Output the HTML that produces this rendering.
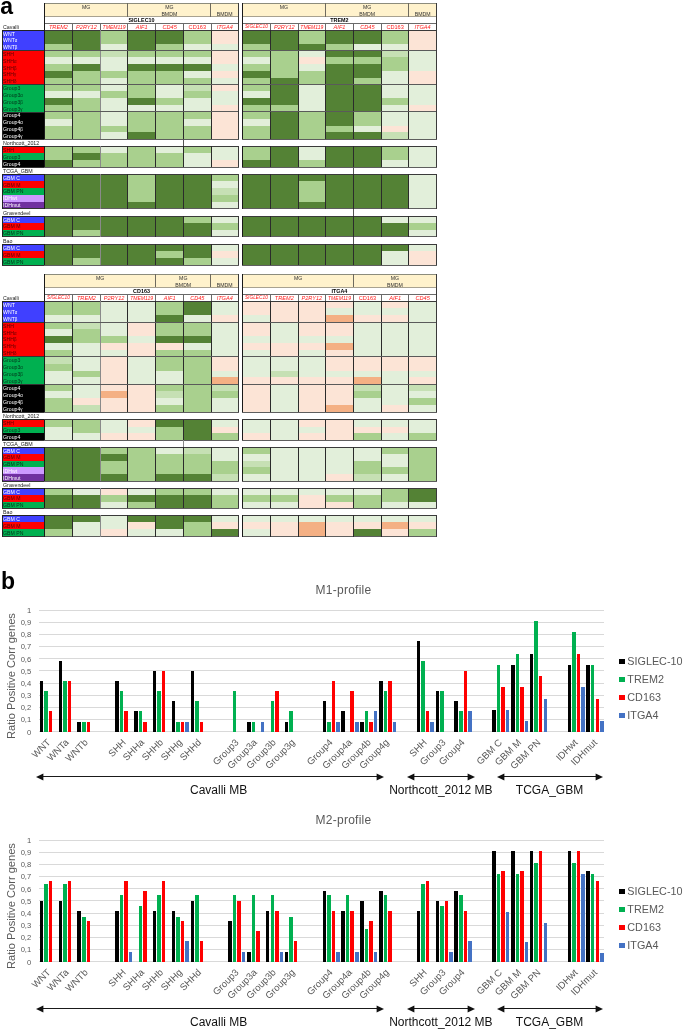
<!DOCTYPE html>
<html><head><meta charset="utf-8"><title>Figure</title>
<style>
html,body{margin:0;padding:0;background:#fff;}
body{width:685px;height:1030px;position:relative;overflow:hidden;font-family:"Liberation Sans", sans-serif;}
.a{position:absolute;}
.t{position:absolute;white-space:nowrap;}
body{will-change:transform;}
</style></head><body>
<div class="t" style="left:0.2px;top:-5.3px;font-size:23px;line-height:23px;font-weight:bold;color:#000;">a</div>
<div class="t" style="top:24.6px;font-size:5.3px;line-height:5.3px;color:#222;font-weight:normal;font-style:normal;left:3px;">Cavalli</div>
<div class="a" style="left:2px;top:30px;width:42px;height:20.49px;background:#4040ff;"></div>
<div class="t" style="top:31.5px;font-size:5.15px;line-height:5.15px;color:#fff;font-weight:normal;font-style:normal;left:3.1px;">WNT</div>
<div class="t" style="top:38.33px;font-size:5.15px;line-height:5.15px;color:#fff;font-weight:normal;font-style:normal;left:3.1px;">WNT<span style="font-size:86%">&alpha;</span></div>
<div class="t" style="top:45.16px;font-size:5.15px;line-height:5.15px;color:#fff;font-weight:normal;font-style:normal;left:3.1px;">WNT<span style="font-size:86%">&beta;</span></div>
<div class="a" style="left:2px;top:50.49px;width:42px;height:34.16px;background:#ff0000;"></div>
<div class="t" style="top:51.99px;font-size:5.15px;line-height:5.15px;color:#5a0000;font-weight:normal;font-style:normal;left:3.1px;">SHH</div>
<div class="t" style="top:58.83px;font-size:5.15px;line-height:5.15px;color:#5a0000;font-weight:normal;font-style:normal;left:3.1px;">SHH<span style="font-size:86%">&alpha;</span></div>
<div class="t" style="top:65.66px;font-size:5.15px;line-height:5.15px;color:#5a0000;font-weight:normal;font-style:normal;left:3.1px;">SHH<span style="font-size:86%">&beta;</span></div>
<div class="t" style="top:72.49px;font-size:5.15px;line-height:5.15px;color:#5a0000;font-weight:normal;font-style:normal;left:3.1px;">SHH<span style="font-size:86%">&gamma;</span></div>
<div class="t" style="top:79.32px;font-size:5.15px;line-height:5.15px;color:#5a0000;font-weight:normal;font-style:normal;left:3.1px;">SHH<span style="font-size:86%">&delta;</span></div>
<div class="a" style="left:2px;top:84.65px;width:42px;height:27.33px;background:#00b050;"></div>
<div class="t" style="top:86.15px;font-size:5.15px;line-height:5.15px;color:#00331a;font-weight:normal;font-style:normal;left:3.1px;">Group3</div>
<div class="t" style="top:92.98px;font-size:5.15px;line-height:5.15px;color:#00331a;font-weight:normal;font-style:normal;left:3.1px;">Group3<span style="font-size:86%">&alpha;</span></div>
<div class="t" style="top:99.81px;font-size:5.15px;line-height:5.15px;color:#00331a;font-weight:normal;font-style:normal;left:3.1px;">Group3<span style="font-size:86%">&beta;</span></div>
<div class="t" style="top:106.64px;font-size:5.15px;line-height:5.15px;color:#00331a;font-weight:normal;font-style:normal;left:3.1px;">Group3<span style="font-size:86%">&gamma;</span></div>
<div class="a" style="left:2px;top:111.98px;width:42px;height:27.33px;background:#000000;"></div>
<div class="t" style="top:113.48px;font-size:5.15px;line-height:5.15px;color:#fff;font-weight:normal;font-style:normal;left:3.1px;">Group4</div>
<div class="t" style="top:120.31px;font-size:5.15px;line-height:5.15px;color:#fff;font-weight:normal;font-style:normal;left:3.1px;">Group4<span style="font-size:86%">&alpha;</span></div>
<div class="t" style="top:127.14px;font-size:5.15px;line-height:5.15px;color:#fff;font-weight:normal;font-style:normal;left:3.1px;">Group4<span style="font-size:86%">&beta;</span></div>
<div class="t" style="top:133.97px;font-size:5.15px;line-height:5.15px;color:#fff;font-weight:normal;font-style:normal;left:3.1px;">Group4<span style="font-size:86%">&gamma;</span></div>
<div class="a" style="left:2px;top:29.5px;width:42px;height:1px;background:#222;"></div>
<div class="a" style="left:2px;top:138.8px;width:42px;height:1px;background:#333;"></div>
<div class="a" style="left:1.95px;top:30px;width:0.9px;height:109.3px;background:#222;"></div>
<div class="a" style="left:2px;top:50.09px;width:42px;height:0.8px;background:#333;"></div>
<div class="a" style="left:2px;top:84.25px;width:42px;height:0.8px;background:#333;"></div>
<div class="a" style="left:2px;top:111.58px;width:42px;height:0.8px;background:#333;"></div>
<div class="t" style="top:140.9px;font-size:5.3px;line-height:5.3px;color:#222;font-weight:normal;font-style:normal;left:3px;">Northcott_2012</div>
<div class="a" style="left:2px;top:146.3px;width:42px;height:7px;background:#ff0000;"></div>
<div class="t" style="top:147.8px;font-size:5.15px;line-height:5.15px;color:#5a0000;font-weight:normal;font-style:normal;left:3.1px;">SHH</div>
<div class="a" style="left:2px;top:153.3px;width:42px;height:7px;background:#00b050;"></div>
<div class="t" style="top:154.8px;font-size:5.15px;line-height:5.15px;color:#00331a;font-weight:normal;font-style:normal;left:3.1px;">Group3</div>
<div class="a" style="left:2px;top:160.3px;width:42px;height:7px;background:#000000;"></div>
<div class="t" style="top:161.8px;font-size:5.15px;line-height:5.15px;color:#fff;font-weight:normal;font-style:normal;left:3.1px;">Group4</div>
<div class="a" style="left:2px;top:145.8px;width:42px;height:1px;background:#222;"></div>
<div class="a" style="left:2px;top:166.8px;width:42px;height:1px;background:#333;"></div>
<div class="a" style="left:1.95px;top:146.3px;width:0.9px;height:21px;background:#222;"></div>
<div class="t" style="top:168.7px;font-size:5.3px;line-height:5.3px;color:#222;font-weight:normal;font-style:normal;left:3px;">TCGA_GBM</div>
<div class="a" style="left:2px;top:174.1px;width:42px;height:6.9px;background:#4040ff;"></div>
<div class="t" style="top:175.6px;font-size:5.15px;line-height:5.15px;color:#fff;font-weight:normal;font-style:normal;left:3.1px;">GBM C</div>
<div class="a" style="left:2px;top:181px;width:42px;height:6.9px;background:#ff0000;"></div>
<div class="t" style="top:182.5px;font-size:5.15px;line-height:5.15px;color:#5a0000;font-weight:normal;font-style:normal;left:3.1px;">GBM M</div>
<div class="a" style="left:2px;top:187.9px;width:42px;height:6.9px;background:#00b050;"></div>
<div class="t" style="top:189.4px;font-size:5.15px;line-height:5.15px;color:#00331a;font-weight:normal;font-style:normal;left:3.1px;">GBM PN</div>
<div class="a" style="left:2px;top:194.8px;width:42px;height:6.9px;background:#cc99ff;"></div>
<div class="t" style="top:196.3px;font-size:5.15px;line-height:5.15px;color:#fff;font-weight:normal;font-style:normal;left:3.1px;">IDHwt</div>
<div class="a" style="left:2px;top:201.7px;width:42px;height:6.9px;background:#7030a0;"></div>
<div class="t" style="top:203.2px;font-size:5.15px;line-height:5.15px;color:#fff;font-weight:normal;font-style:normal;left:3.1px;">IDHmut</div>
<div class="a" style="left:2px;top:173.6px;width:42px;height:1px;background:#222;"></div>
<div class="a" style="left:2px;top:208.1px;width:42px;height:1px;background:#333;"></div>
<div class="a" style="left:1.95px;top:174.1px;width:0.9px;height:34.5px;background:#222;"></div>
<div class="t" style="top:210.6px;font-size:5.3px;line-height:5.3px;color:#222;font-weight:normal;font-style:normal;left:3px;">Gravendeel</div>
<div class="a" style="left:2px;top:216px;width:42px;height:6.87px;background:#4040ff;"></div>
<div class="t" style="top:217.5px;font-size:5.15px;line-height:5.15px;color:#fff;font-weight:normal;font-style:normal;left:3.1px;">GBM C</div>
<div class="a" style="left:2px;top:222.87px;width:42px;height:6.87px;background:#ff0000;"></div>
<div class="t" style="top:224.37px;font-size:5.15px;line-height:5.15px;color:#5a0000;font-weight:normal;font-style:normal;left:3.1px;">GBM M</div>
<div class="a" style="left:2px;top:229.73px;width:42px;height:6.87px;background:#00b050;"></div>
<div class="t" style="top:231.23px;font-size:5.15px;line-height:5.15px;color:#00331a;font-weight:normal;font-style:normal;left:3.1px;">GBM PN</div>
<div class="a" style="left:2px;top:215.5px;width:42px;height:1px;background:#222;"></div>
<div class="a" style="left:2px;top:236.1px;width:42px;height:1px;background:#333;"></div>
<div class="a" style="left:1.95px;top:216px;width:0.9px;height:20.6px;background:#222;"></div>
<div class="t" style="top:238.8px;font-size:5.3px;line-height:5.3px;color:#222;font-weight:normal;font-style:normal;left:3px;">Bao</div>
<div class="a" style="left:2px;top:244.2px;width:42px;height:6.93px;background:#4040ff;"></div>
<div class="t" style="top:245.7px;font-size:5.15px;line-height:5.15px;color:#fff;font-weight:normal;font-style:normal;left:3.1px;">GBM C</div>
<div class="a" style="left:2px;top:251.13px;width:42px;height:6.93px;background:#ff0000;"></div>
<div class="t" style="top:252.63px;font-size:5.15px;line-height:5.15px;color:#5a0000;font-weight:normal;font-style:normal;left:3.1px;">GBM M</div>
<div class="a" style="left:2px;top:258.07px;width:42px;height:6.93px;background:#00b050;"></div>
<div class="t" style="top:259.57px;font-size:5.15px;line-height:5.15px;color:#00331a;font-weight:normal;font-style:normal;left:3.1px;">GBM PN</div>
<div class="a" style="left:2px;top:243.7px;width:42px;height:1px;background:#222;"></div>
<div class="a" style="left:2px;top:264.5px;width:42px;height:1px;background:#333;"></div>
<div class="a" style="left:1.95px;top:244.2px;width:0.9px;height:20.8px;background:#222;"></div>
<div class="t" style="top:296px;font-size:5.3px;line-height:5.3px;color:#222;font-weight:normal;font-style:normal;left:3px;">Cavalli</div>
<div class="a" style="left:2px;top:301.4px;width:42px;height:20.74px;background:#4040ff;"></div>
<div class="t" style="top:302.9px;font-size:5.15px;line-height:5.15px;color:#fff;font-weight:normal;font-style:normal;left:3.1px;">WNT</div>
<div class="t" style="top:309.81px;font-size:5.15px;line-height:5.15px;color:#fff;font-weight:normal;font-style:normal;left:3.1px;">WNT<span style="font-size:86%">&alpha;</span></div>
<div class="t" style="top:316.72px;font-size:5.15px;line-height:5.15px;color:#fff;font-weight:normal;font-style:normal;left:3.1px;">WNT<span style="font-size:86%">&beta;</span></div>
<div class="a" style="left:2px;top:322.14px;width:42px;height:34.56px;background:#ff0000;"></div>
<div class="t" style="top:323.64px;font-size:5.15px;line-height:5.15px;color:#5a0000;font-weight:normal;font-style:normal;left:3.1px;">SHH</div>
<div class="t" style="top:330.55px;font-size:5.15px;line-height:5.15px;color:#5a0000;font-weight:normal;font-style:normal;left:3.1px;">SHH<span style="font-size:86%">&alpha;</span></div>
<div class="t" style="top:337.46px;font-size:5.15px;line-height:5.15px;color:#5a0000;font-weight:normal;font-style:normal;left:3.1px;">SHH<span style="font-size:86%">&beta;</span></div>
<div class="t" style="top:344.38px;font-size:5.15px;line-height:5.15px;color:#5a0000;font-weight:normal;font-style:normal;left:3.1px;">SHH<span style="font-size:86%">&gamma;</span></div>
<div class="t" style="top:351.29px;font-size:5.15px;line-height:5.15px;color:#5a0000;font-weight:normal;font-style:normal;left:3.1px;">SHH<span style="font-size:86%">&delta;</span></div>
<div class="a" style="left:2px;top:356.7px;width:42px;height:27.65px;background:#00b050;"></div>
<div class="t" style="top:358.2px;font-size:5.15px;line-height:5.15px;color:#00331a;font-weight:normal;font-style:normal;left:3.1px;">Group3</div>
<div class="t" style="top:365.11px;font-size:5.15px;line-height:5.15px;color:#00331a;font-weight:normal;font-style:normal;left:3.1px;">Group3<span style="font-size:86%">&alpha;</span></div>
<div class="t" style="top:372.02px;font-size:5.15px;line-height:5.15px;color:#00331a;font-weight:normal;font-style:normal;left:3.1px;">Group3<span style="font-size:86%">&beta;</span></div>
<div class="t" style="top:378.94px;font-size:5.15px;line-height:5.15px;color:#00331a;font-weight:normal;font-style:normal;left:3.1px;">Group3<span style="font-size:86%">&gamma;</span></div>
<div class="a" style="left:2px;top:384.35px;width:42px;height:27.65px;background:#000000;"></div>
<div class="t" style="top:385.85px;font-size:5.15px;line-height:5.15px;color:#fff;font-weight:normal;font-style:normal;left:3.1px;">Group4</div>
<div class="t" style="top:392.76px;font-size:5.15px;line-height:5.15px;color:#fff;font-weight:normal;font-style:normal;left:3.1px;">Group4<span style="font-size:86%">&alpha;</span></div>
<div class="t" style="top:399.68px;font-size:5.15px;line-height:5.15px;color:#fff;font-weight:normal;font-style:normal;left:3.1px;">Group4<span style="font-size:86%">&beta;</span></div>
<div class="t" style="top:406.59px;font-size:5.15px;line-height:5.15px;color:#fff;font-weight:normal;font-style:normal;left:3.1px;">Group4<span style="font-size:86%">&gamma;</span></div>
<div class="a" style="left:2px;top:300.9px;width:42px;height:1px;background:#222;"></div>
<div class="a" style="left:2px;top:411.5px;width:42px;height:1px;background:#333;"></div>
<div class="a" style="left:1.95px;top:301.4px;width:0.9px;height:110.6px;background:#222;"></div>
<div class="a" style="left:2px;top:321.74px;width:42px;height:0.8px;background:#333;"></div>
<div class="a" style="left:2px;top:356.3px;width:42px;height:0.8px;background:#333;"></div>
<div class="a" style="left:2px;top:383.95px;width:42px;height:0.8px;background:#333;"></div>
<div class="t" style="top:414.4px;font-size:5.3px;line-height:5.3px;color:#222;font-weight:normal;font-style:normal;left:3px;">Northcott_2012</div>
<div class="a" style="left:2px;top:419.8px;width:42px;height:6.83px;background:#ff0000;"></div>
<div class="t" style="top:421.3px;font-size:5.15px;line-height:5.15px;color:#5a0000;font-weight:normal;font-style:normal;left:3.1px;">SHH</div>
<div class="a" style="left:2px;top:426.63px;width:42px;height:6.83px;background:#00b050;"></div>
<div class="t" style="top:428.13px;font-size:5.15px;line-height:5.15px;color:#00331a;font-weight:normal;font-style:normal;left:3.1px;">Group3</div>
<div class="a" style="left:2px;top:433.47px;width:42px;height:6.83px;background:#000000;"></div>
<div class="t" style="top:434.97px;font-size:5.15px;line-height:5.15px;color:#fff;font-weight:normal;font-style:normal;left:3.1px;">Group4</div>
<div class="a" style="left:2px;top:419.3px;width:42px;height:1px;background:#222;"></div>
<div class="a" style="left:2px;top:439.8px;width:42px;height:1px;background:#333;"></div>
<div class="a" style="left:1.95px;top:419.8px;width:0.9px;height:20.5px;background:#222;"></div>
<div class="t" style="top:441.8px;font-size:5.3px;line-height:5.3px;color:#222;font-weight:normal;font-style:normal;left:3px;">TCGA_GBM</div>
<div class="a" style="left:2px;top:447.2px;width:42px;height:6.76px;background:#4040ff;"></div>
<div class="t" style="top:448.7px;font-size:5.15px;line-height:5.15px;color:#fff;font-weight:normal;font-style:normal;left:3.1px;">GBM C</div>
<div class="a" style="left:2px;top:453.96px;width:42px;height:6.76px;background:#ff0000;"></div>
<div class="t" style="top:455.46px;font-size:5.15px;line-height:5.15px;color:#5a0000;font-weight:normal;font-style:normal;left:3.1px;">GBM M</div>
<div class="a" style="left:2px;top:460.72px;width:42px;height:6.76px;background:#00b050;"></div>
<div class="t" style="top:462.22px;font-size:5.15px;line-height:5.15px;color:#00331a;font-weight:normal;font-style:normal;left:3.1px;">GBM PN</div>
<div class="a" style="left:2px;top:467.48px;width:42px;height:6.76px;background:#cc99ff;"></div>
<div class="t" style="top:468.98px;font-size:5.15px;line-height:5.15px;color:#fff;font-weight:normal;font-style:normal;left:3.1px;">IDHwt</div>
<div class="a" style="left:2px;top:474.24px;width:42px;height:6.76px;background:#7030a0;"></div>
<div class="t" style="top:475.74px;font-size:5.15px;line-height:5.15px;color:#fff;font-weight:normal;font-style:normal;left:3.1px;">IDHmut</div>
<div class="a" style="left:2px;top:446.7px;width:42px;height:1px;background:#222;"></div>
<div class="a" style="left:2px;top:480.5px;width:42px;height:1px;background:#333;"></div>
<div class="a" style="left:1.95px;top:447.2px;width:0.9px;height:33.8px;background:#222;"></div>
<div class="t" style="top:482.6px;font-size:5.3px;line-height:5.3px;color:#222;font-weight:normal;font-style:normal;left:3px;">Gravendeel</div>
<div class="a" style="left:2px;top:488px;width:42px;height:6.8px;background:#4040ff;"></div>
<div class="t" style="top:489.5px;font-size:5.15px;line-height:5.15px;color:#fff;font-weight:normal;font-style:normal;left:3.1px;">GBM C</div>
<div class="a" style="left:2px;top:494.8px;width:42px;height:6.8px;background:#ff0000;"></div>
<div class="t" style="top:496.3px;font-size:5.15px;line-height:5.15px;color:#5a0000;font-weight:normal;font-style:normal;left:3.1px;">GBM M</div>
<div class="a" style="left:2px;top:501.6px;width:42px;height:6.8px;background:#00b050;"></div>
<div class="t" style="top:503.1px;font-size:5.15px;line-height:5.15px;color:#00331a;font-weight:normal;font-style:normal;left:3.1px;">GBM PN</div>
<div class="a" style="left:2px;top:487.5px;width:42px;height:1px;background:#222;"></div>
<div class="a" style="left:2px;top:507.9px;width:42px;height:1px;background:#333;"></div>
<div class="a" style="left:1.95px;top:488px;width:0.9px;height:20.4px;background:#222;"></div>
<div class="t" style="top:509.6px;font-size:5.3px;line-height:5.3px;color:#222;font-weight:normal;font-style:normal;left:3px;">Bao</div>
<div class="a" style="left:2px;top:515px;width:42px;height:7.2px;background:#4040ff;"></div>
<div class="t" style="top:516.5px;font-size:5.15px;line-height:5.15px;color:#fff;font-weight:normal;font-style:normal;left:3.1px;">GBM C</div>
<div class="a" style="left:2px;top:522.2px;width:42px;height:7.2px;background:#ff0000;"></div>
<div class="t" style="top:523.7px;font-size:5.15px;line-height:5.15px;color:#5a0000;font-weight:normal;font-style:normal;left:3.1px;">GBM M</div>
<div class="a" style="left:2px;top:529.4px;width:42px;height:7.2px;background:#00b050;"></div>
<div class="t" style="top:530.9px;font-size:5.15px;line-height:5.15px;color:#00331a;font-weight:normal;font-style:normal;left:3.1px;">GBM PN</div>
<div class="a" style="left:2px;top:514.5px;width:42px;height:1px;background:#222;"></div>
<div class="a" style="left:2px;top:536.1px;width:42px;height:1px;background:#333;"></div>
<div class="a" style="left:1.95px;top:515px;width:0.9px;height:21.6px;background:#222;"></div>
<div class="a" style="left:44px;top:3px;width:195px;height:13.6px;background:#fff2cc;"></div>
<div class="t" style="top:4.5px;font-size:5.2px;line-height:5.2px;color:#333;font-weight:normal;font-style:normal;left:86.1px;width:0;display:flex;justify-content:center;">MG</div>
<div class="t" style="top:4.5px;font-size:5.2px;line-height:5.2px;color:#333;font-weight:normal;font-style:normal;left:169.32px;width:0;display:flex;justify-content:center;">MG</div>
<div class="t" style="top:11.6px;font-size:5.2px;line-height:5.2px;color:#333;font-weight:normal;font-style:normal;left:169.32px;width:0;display:flex;justify-content:center;">BMDM</div>
<div class="t" style="top:11.6px;font-size:5.2px;line-height:5.2px;color:#333;font-weight:normal;font-style:normal;left:224.72px;width:0;display:flex;justify-content:center;">BMDM</div>
<div class="a" style="left:44px;top:16.6px;width:195px;height:6.9px;background:#ffffff;"></div>
<div class="t" style="top:18.2px;font-size:5.4px;line-height:5.4px;color:#000;font-weight:bold;font-style:normal;left:141.5px;width:0;display:flex;justify-content:center;">SIGLEC10</div>
<div class="a" style="left:44px;top:23.5px;width:195px;height:6.5px;background:#ffffff;"></div>
<div class="t" style="top:25px;font-size:5.6px;line-height:5.6px;color:#ff1a1a;font-weight:normal;font-style:italic;left:58.45px;width:0;display:flex;justify-content:center;">TREM2</div>
<div class="t" style="top:25px;font-size:5.6px;line-height:5.6px;color:#ff1a1a;font-weight:normal;font-style:italic;left:86.43px;width:0;display:flex;justify-content:center;">P2RY12</div>
<div class="t" style="top:25.27px;font-size:5.07px;line-height:5.07px;color:#ff1a1a;font-weight:normal;font-style:italic;left:114.08px;width:0;display:flex;justify-content:center;">TMEM119</div>
<div class="t" style="top:25px;font-size:5.6px;line-height:5.6px;color:#ff1a1a;font-weight:normal;font-style:italic;left:141.65px;width:0;display:flex;justify-content:center;">AIF1</div>
<div class="t" style="top:25px;font-size:5.6px;line-height:5.6px;color:#ff1a1a;font-weight:normal;font-style:italic;left:169.62px;width:0;display:flex;justify-content:center;">CD45</div>
<div class="t" style="top:25px;font-size:5.6px;line-height:5.6px;color:#ff1a1a;font-weight:normal;font-style:normal;left:197.3px;width:0;display:flex;justify-content:center;">CD163</div>
<div class="t" style="top:25px;font-size:5.6px;line-height:5.6px;color:#ff1a1a;font-weight:normal;font-style:italic;left:224.72px;width:0;display:flex;justify-content:center;">ITGA4</div>
<div class="a" style="left:44.5px;top:30px;width:27.9px;height:13.66px;background:#548235;"></div>
<div class="a" style="left:44.5px;top:43.66px;width:27.9px;height:13.66px;background:#a9d08e;"></div>
<div class="a" style="left:44.5px;top:57.33px;width:27.9px;height:6.83px;background:#e2efda;"></div>
<div class="a" style="left:44.5px;top:64.16px;width:27.9px;height:6.83px;background:#a9d08e;"></div>
<div class="a" style="left:44.5px;top:70.99px;width:27.9px;height:6.83px;background:#548235;"></div>
<div class="a" style="left:44.5px;top:77.82px;width:27.9px;height:13.66px;background:#a9d08e;"></div>
<div class="a" style="left:44.5px;top:91.48px;width:27.9px;height:6.83px;background:#e2efda;"></div>
<div class="a" style="left:44.5px;top:98.31px;width:27.9px;height:6.83px;background:#548235;"></div>
<div class="a" style="left:44.5px;top:105.14px;width:27.9px;height:13.66px;background:#a9d08e;"></div>
<div class="a" style="left:44.5px;top:118.81px;width:27.9px;height:6.83px;background:#e2efda;"></div>
<div class="a" style="left:44.5px;top:125.64px;width:27.9px;height:13.66px;background:#a9d08e;"></div>
<div class="a" style="left:44.5px;top:146.3px;width:27.9px;height:14px;background:#a9d08e;"></div>
<div class="a" style="left:44.5px;top:160.3px;width:27.9px;height:7px;background:#548235;"></div>
<div class="a" style="left:44.5px;top:174.1px;width:27.9px;height:34.5px;background:#548235;"></div>
<div class="a" style="left:44.5px;top:216px;width:27.9px;height:20.6px;background:#548235;"></div>
<div class="a" style="left:44.5px;top:244.2px;width:27.9px;height:20.8px;background:#548235;"></div>
<div class="a" style="left:72.4px;top:30px;width:28.05px;height:20.49px;background:#548235;"></div>
<div class="a" style="left:72.4px;top:50.49px;width:28.05px;height:6.83px;background:#a9d08e;"></div>
<div class="a" style="left:72.4px;top:57.33px;width:28.05px;height:6.83px;background:#e2efda;"></div>
<div class="a" style="left:72.4px;top:64.16px;width:28.05px;height:6.83px;background:#548235;"></div>
<div class="a" style="left:72.4px;top:70.99px;width:28.05px;height:20.49px;background:#a9d08e;"></div>
<div class="a" style="left:72.4px;top:91.48px;width:28.05px;height:6.83px;background:#e2efda;"></div>
<div class="a" style="left:72.4px;top:98.31px;width:28.05px;height:40.99px;background:#a9d08e;"></div>
<div class="a" style="left:72.4px;top:146.3px;width:28.05px;height:7px;background:#a9d08e;"></div>
<div class="a" style="left:72.4px;top:153.3px;width:28.05px;height:7px;background:#548235;"></div>
<div class="a" style="left:72.4px;top:160.3px;width:28.05px;height:7px;background:#a9d08e;"></div>
<div class="a" style="left:72.4px;top:174.1px;width:28.05px;height:34.5px;background:#548235;"></div>
<div class="a" style="left:72.4px;top:216px;width:28.05px;height:13.73px;background:#548235;"></div>
<div class="a" style="left:72.4px;top:229.73px;width:28.05px;height:6.87px;background:#a9d08e;"></div>
<div class="a" style="left:72.4px;top:244.2px;width:28.05px;height:13.87px;background:#548235;"></div>
<div class="a" style="left:72.4px;top:258.07px;width:28.05px;height:6.93px;background:#a9d08e;"></div>
<div class="a" style="left:100.45px;top:30px;width:27.25px;height:13.66px;background:#a9d08e;"></div>
<div class="a" style="left:100.45px;top:43.66px;width:27.25px;height:6.83px;background:#e2efda;"></div>
<div class="a" style="left:100.45px;top:50.49px;width:27.25px;height:6.83px;background:#c6e0b4;"></div>
<div class="a" style="left:100.45px;top:57.33px;width:27.25px;height:13.66px;background:#e2efda;"></div>
<div class="a" style="left:100.45px;top:70.99px;width:27.25px;height:6.83px;background:#a9d08e;"></div>
<div class="a" style="left:100.45px;top:77.82px;width:27.25px;height:13.66px;background:#e2efda;"></div>
<div class="a" style="left:100.45px;top:91.48px;width:27.25px;height:6.83px;background:#a9d08e;"></div>
<div class="a" style="left:100.45px;top:98.31px;width:27.25px;height:27.33px;background:#e2efda;"></div>
<div class="a" style="left:100.45px;top:125.64px;width:27.25px;height:6.83px;background:#a9d08e;"></div>
<div class="a" style="left:100.45px;top:132.47px;width:27.25px;height:6.83px;background:#e2efda;"></div>
<div class="a" style="left:100.45px;top:146.3px;width:27.25px;height:7px;background:#e2efda;"></div>
<div class="a" style="left:100.45px;top:153.3px;width:27.25px;height:14px;background:#a9d08e;"></div>
<div class="a" style="left:100.45px;top:174.1px;width:27.25px;height:34.5px;background:#548235;"></div>
<div class="a" style="left:100.45px;top:216px;width:27.25px;height:20.6px;background:#548235;"></div>
<div class="a" style="left:100.45px;top:244.2px;width:27.25px;height:20.8px;background:#548235;"></div>
<div class="a" style="left:127.7px;top:30px;width:27.9px;height:20.49px;background:#548235;"></div>
<div class="a" style="left:127.7px;top:50.49px;width:27.9px;height:6.83px;background:#a9d08e;"></div>
<div class="a" style="left:127.7px;top:57.33px;width:27.9px;height:6.83px;background:#e2efda;"></div>
<div class="a" style="left:127.7px;top:64.16px;width:27.9px;height:6.83px;background:#548235;"></div>
<div class="a" style="left:127.7px;top:70.99px;width:27.9px;height:27.32px;background:#a9d08e;"></div>
<div class="a" style="left:127.7px;top:98.31px;width:27.9px;height:6.83px;background:#548235;"></div>
<div class="a" style="left:127.7px;top:105.14px;width:27.9px;height:6.83px;background:#e2efda;"></div>
<div class="a" style="left:127.7px;top:111.98px;width:27.9px;height:20.49px;background:#a9d08e;"></div>
<div class="a" style="left:127.7px;top:132.47px;width:27.9px;height:6.83px;background:#548235;"></div>
<div class="a" style="left:127.7px;top:146.3px;width:27.9px;height:21px;background:#a9d08e;"></div>
<div class="a" style="left:127.7px;top:174.1px;width:27.9px;height:27.6px;background:#a9d08e;"></div>
<div class="a" style="left:127.7px;top:201.7px;width:27.9px;height:6.9px;background:#548235;"></div>
<div class="a" style="left:127.7px;top:216px;width:27.9px;height:20.6px;background:#548235;"></div>
<div class="a" style="left:127.7px;top:244.2px;width:27.9px;height:20.8px;background:#548235;"></div>
<div class="a" style="left:155.6px;top:30px;width:28.05px;height:13.66px;background:#548235;"></div>
<div class="a" style="left:155.6px;top:43.66px;width:28.05px;height:13.66px;background:#a9d08e;"></div>
<div class="a" style="left:155.6px;top:57.33px;width:28.05px;height:6.83px;background:#e2efda;"></div>
<div class="a" style="left:155.6px;top:64.16px;width:28.05px;height:6.83px;background:#548235;"></div>
<div class="a" style="left:155.6px;top:70.99px;width:28.05px;height:13.66px;background:#a9d08e;"></div>
<div class="a" style="left:155.6px;top:84.65px;width:28.05px;height:13.66px;background:#e2efda;"></div>
<div class="a" style="left:155.6px;top:98.31px;width:28.05px;height:6.83px;background:#a9d08e;"></div>
<div class="a" style="left:155.6px;top:105.14px;width:28.05px;height:6.83px;background:#e2efda;"></div>
<div class="a" style="left:155.6px;top:111.98px;width:28.05px;height:27.33px;background:#a9d08e;"></div>
<div class="a" style="left:155.6px;top:146.3px;width:28.05px;height:7px;background:#e2efda;"></div>
<div class="a" style="left:155.6px;top:153.3px;width:28.05px;height:14px;background:#a9d08e;"></div>
<div class="a" style="left:155.6px;top:174.1px;width:28.05px;height:34.5px;background:#548235;"></div>
<div class="a" style="left:155.6px;top:216px;width:28.05px;height:20.6px;background:#548235;"></div>
<div class="a" style="left:155.6px;top:244.2px;width:28.05px;height:6.93px;background:#548235;"></div>
<div class="a" style="left:155.6px;top:251.13px;width:28.05px;height:6.93px;background:#a9d08e;"></div>
<div class="a" style="left:155.6px;top:258.07px;width:28.05px;height:6.93px;background:#548235;"></div>
<div class="a" style="left:183.65px;top:30px;width:27.3px;height:13.66px;background:#a9d08e;"></div>
<div class="a" style="left:183.65px;top:43.66px;width:27.3px;height:6.83px;background:#e2efda;"></div>
<div class="a" style="left:183.65px;top:50.49px;width:27.3px;height:6.83px;background:#a9d08e;"></div>
<div class="a" style="left:183.65px;top:57.33px;width:27.3px;height:6.83px;background:#e2efda;"></div>
<div class="a" style="left:183.65px;top:64.16px;width:27.3px;height:6.83px;background:#548235;"></div>
<div class="a" style="left:183.65px;top:70.99px;width:27.3px;height:6.83px;background:#e2efda;"></div>
<div class="a" style="left:183.65px;top:77.82px;width:27.3px;height:6.83px;background:#a9d08e;"></div>
<div class="a" style="left:183.65px;top:84.65px;width:27.3px;height:6.83px;background:#c6e0b4;"></div>
<div class="a" style="left:183.65px;top:91.48px;width:27.3px;height:6.83px;background:#a9d08e;"></div>
<div class="a" style="left:183.65px;top:98.31px;width:27.3px;height:13.66px;background:#e2efda;"></div>
<div class="a" style="left:183.65px;top:111.98px;width:27.3px;height:6.83px;background:#a9d08e;"></div>
<div class="a" style="left:183.65px;top:118.81px;width:27.3px;height:6.83px;background:#e2efda;"></div>
<div class="a" style="left:183.65px;top:125.64px;width:27.3px;height:13.66px;background:#a9d08e;"></div>
<div class="a" style="left:183.65px;top:146.3px;width:27.3px;height:7px;background:#a9d08e;"></div>
<div class="a" style="left:183.65px;top:153.3px;width:27.3px;height:14px;background:#e2efda;"></div>
<div class="a" style="left:183.65px;top:174.1px;width:27.3px;height:34.5px;background:#548235;"></div>
<div class="a" style="left:183.65px;top:216px;width:27.3px;height:6.87px;background:#a9d08e;"></div>
<div class="a" style="left:183.65px;top:222.87px;width:27.3px;height:13.73px;background:#548235;"></div>
<div class="a" style="left:183.65px;top:244.2px;width:27.3px;height:13.87px;background:#548235;"></div>
<div class="a" style="left:183.65px;top:258.07px;width:27.3px;height:6.93px;background:#a9d08e;"></div>
<div class="a" style="left:210.95px;top:30px;width:27.55px;height:13.66px;background:#fce4d6;"></div>
<div class="a" style="left:210.95px;top:43.66px;width:27.55px;height:6.83px;background:#e2efda;"></div>
<div class="a" style="left:210.95px;top:50.49px;width:27.55px;height:13.66px;background:#fce4d6;"></div>
<div class="a" style="left:210.95px;top:64.16px;width:27.55px;height:6.83px;background:#e2efda;"></div>
<div class="a" style="left:210.95px;top:70.99px;width:27.55px;height:6.83px;background:#fce4d6;"></div>
<div class="a" style="left:210.95px;top:77.82px;width:27.55px;height:6.83px;background:#e2efda;"></div>
<div class="a" style="left:210.95px;top:84.65px;width:27.55px;height:6.83px;background:#fce4d6;"></div>
<div class="a" style="left:210.95px;top:91.48px;width:27.55px;height:13.66px;background:#e2efda;"></div>
<div class="a" style="left:210.95px;top:105.14px;width:27.55px;height:34.16px;background:#fce4d6;"></div>
<div class="a" style="left:210.95px;top:146.3px;width:27.55px;height:14px;background:#e2efda;"></div>
<div class="a" style="left:210.95px;top:160.3px;width:27.55px;height:7px;background:#fce4d6;"></div>
<div class="a" style="left:210.95px;top:174.1px;width:27.55px;height:6.9px;background:#a9d08e;"></div>
<div class="a" style="left:210.95px;top:181px;width:27.55px;height:6.9px;background:#e2efda;"></div>
<div class="a" style="left:210.95px;top:187.9px;width:27.55px;height:6.9px;background:#c6e0b4;"></div>
<div class="a" style="left:210.95px;top:194.8px;width:27.55px;height:6.9px;background:#a9d08e;"></div>
<div class="a" style="left:210.95px;top:201.7px;width:27.55px;height:6.9px;background:#e2efda;"></div>
<div class="a" style="left:210.95px;top:216px;width:27.55px;height:6.87px;background:#e2efda;"></div>
<div class="a" style="left:210.95px;top:222.87px;width:27.55px;height:6.87px;background:#a9d08e;"></div>
<div class="a" style="left:210.95px;top:229.73px;width:27.55px;height:6.87px;background:#e2efda;"></div>
<div class="a" style="left:210.95px;top:244.2px;width:27.55px;height:6.93px;background:#e2efda;"></div>
<div class="a" style="left:210.95px;top:251.13px;width:27.55px;height:6.93px;background:#fce4d6;"></div>
<div class="a" style="left:210.95px;top:258.07px;width:27.55px;height:6.93px;background:#e2efda;"></div>
<div class="a" style="left:44px;top:2.9px;width:195px;height:1px;background:#8c8c7c;"></div>
<div class="a" style="left:44px;top:16.1px;width:195px;height:1px;background:#a8a290;"></div>
<div class="a" style="left:44px;top:23.05px;width:195px;height:0.9px;background:#6a6a6a;"></div>
<div class="a" style="left:127.2px;top:3px;width:1px;height:13.6px;background:#6e6a5e;"></div>
<div class="a" style="left:210.45px;top:3px;width:1px;height:13.6px;background:#6e6a5e;"></div>
<div class="a" style="left:71.95px;top:23.5px;width:0.9px;height:6.5px;background:#6a6a6a;"></div>
<div class="a" style="left:100px;top:23.5px;width:0.9px;height:6.5px;background:#6a6a6a;"></div>
<div class="a" style="left:127.25px;top:23.5px;width:0.9px;height:6.5px;background:#6a6a6a;"></div>
<div class="a" style="left:155.15px;top:23.5px;width:0.9px;height:6.5px;background:#6a6a6a;"></div>
<div class="a" style="left:183.2px;top:23.5px;width:0.9px;height:6.5px;background:#6a6a6a;"></div>
<div class="a" style="left:210.5px;top:23.5px;width:0.9px;height:6.5px;background:#6a6a6a;"></div>
<div class="a" style="left:44px;top:29.5px;width:195px;height:1px;background:#3a3a3a;"></div>
<div class="a" style="left:44px;top:138.8px;width:195px;height:1px;background:#5e5e5e;"></div>
<div class="a" style="left:71.95px;top:30px;width:0.9px;height:109.3px;background:#2b2b2b;"></div>
<div class="a" style="left:100px;top:30px;width:0.9px;height:109.3px;background:#8a8a8a;"></div>
<div class="a" style="left:127.25px;top:30px;width:0.9px;height:109.3px;background:#2b2b2b;"></div>
<div class="a" style="left:155.15px;top:30px;width:0.9px;height:109.3px;background:#2b2b2b;"></div>
<div class="a" style="left:183.2px;top:30px;width:0.9px;height:109.3px;background:#2b2b2b;"></div>
<div class="a" style="left:210.5px;top:30px;width:0.9px;height:109.3px;background:#2b2b2b;"></div>
<div class="a" style="left:44px;top:49.99px;width:195px;height:1px;background:#5a5a5a;"></div>
<div class="a" style="left:44px;top:84.15px;width:195px;height:1px;background:#5a5a5a;"></div>
<div class="a" style="left:44px;top:111.48px;width:195px;height:1px;background:#5a5a5a;"></div>
<div class="a" style="left:44px;top:145.8px;width:195px;height:1px;background:#3a3a3a;"></div>
<div class="a" style="left:44px;top:166.8px;width:195px;height:1px;background:#5e5e5e;"></div>
<div class="a" style="left:71.95px;top:146.3px;width:0.9px;height:21px;background:#2b2b2b;"></div>
<div class="a" style="left:100px;top:146.3px;width:0.9px;height:21px;background:#8a8a8a;"></div>
<div class="a" style="left:127.25px;top:146.3px;width:0.9px;height:21px;background:#2b2b2b;"></div>
<div class="a" style="left:155.15px;top:146.3px;width:0.9px;height:21px;background:#2b2b2b;"></div>
<div class="a" style="left:183.2px;top:146.3px;width:0.9px;height:21px;background:#2b2b2b;"></div>
<div class="a" style="left:210.5px;top:146.3px;width:0.9px;height:21px;background:#2b2b2b;"></div>
<div class="a" style="left:44px;top:173.6px;width:195px;height:1px;background:#3a3a3a;"></div>
<div class="a" style="left:44px;top:208.1px;width:195px;height:1px;background:#5e5e5e;"></div>
<div class="a" style="left:71.95px;top:174.1px;width:0.9px;height:34.5px;background:#2b2b2b;"></div>
<div class="a" style="left:100px;top:174.1px;width:0.9px;height:34.5px;background:#8a8a8a;"></div>
<div class="a" style="left:127.25px;top:174.1px;width:0.9px;height:34.5px;background:#2b2b2b;"></div>
<div class="a" style="left:155.15px;top:174.1px;width:0.9px;height:34.5px;background:#2b2b2b;"></div>
<div class="a" style="left:183.2px;top:174.1px;width:0.9px;height:34.5px;background:#2b2b2b;"></div>
<div class="a" style="left:210.5px;top:174.1px;width:0.9px;height:34.5px;background:#2b2b2b;"></div>
<div class="a" style="left:44px;top:215.5px;width:195px;height:1px;background:#3a3a3a;"></div>
<div class="a" style="left:44px;top:236.1px;width:195px;height:1px;background:#5e5e5e;"></div>
<div class="a" style="left:71.95px;top:216px;width:0.9px;height:20.6px;background:#2b2b2b;"></div>
<div class="a" style="left:100px;top:216px;width:0.9px;height:20.6px;background:#8a8a8a;"></div>
<div class="a" style="left:127.25px;top:216px;width:0.9px;height:20.6px;background:#2b2b2b;"></div>
<div class="a" style="left:155.15px;top:216px;width:0.9px;height:20.6px;background:#2b2b2b;"></div>
<div class="a" style="left:183.2px;top:216px;width:0.9px;height:20.6px;background:#2b2b2b;"></div>
<div class="a" style="left:210.5px;top:216px;width:0.9px;height:20.6px;background:#2b2b2b;"></div>
<div class="a" style="left:44px;top:243.7px;width:195px;height:1px;background:#3a3a3a;"></div>
<div class="a" style="left:44px;top:264.5px;width:195px;height:1px;background:#5e5e5e;"></div>
<div class="a" style="left:71.95px;top:244.2px;width:0.9px;height:20.8px;background:#2b2b2b;"></div>
<div class="a" style="left:100px;top:244.2px;width:0.9px;height:20.8px;background:#8a8a8a;"></div>
<div class="a" style="left:127.25px;top:244.2px;width:0.9px;height:20.8px;background:#2b2b2b;"></div>
<div class="a" style="left:155.15px;top:244.2px;width:0.9px;height:20.8px;background:#2b2b2b;"></div>
<div class="a" style="left:183.2px;top:244.2px;width:0.9px;height:20.8px;background:#2b2b2b;"></div>
<div class="a" style="left:210.5px;top:244.2px;width:0.9px;height:20.8px;background:#2b2b2b;"></div>
<div class="a" style="left:44px;top:3px;width:1px;height:136.3px;background:#1a1a1a;"></div>
<div class="a" style="left:238px;top:3px;width:1px;height:136.3px;background:#3a3a3a;"></div>
<div class="a" style="left:44px;top:146.3px;width:1px;height:21px;background:#1a1a1a;"></div>
<div class="a" style="left:238px;top:146.3px;width:1px;height:21px;background:#3a3a3a;"></div>
<div class="a" style="left:44px;top:174.1px;width:1px;height:34.5px;background:#1a1a1a;"></div>
<div class="a" style="left:238px;top:174.1px;width:1px;height:34.5px;background:#3a3a3a;"></div>
<div class="a" style="left:44px;top:216px;width:1px;height:20.6px;background:#1a1a1a;"></div>
<div class="a" style="left:238px;top:216px;width:1px;height:20.6px;background:#3a3a3a;"></div>
<div class="a" style="left:44px;top:244.2px;width:1px;height:20.8px;background:#1a1a1a;"></div>
<div class="a" style="left:238px;top:244.2px;width:1px;height:20.8px;background:#3a3a3a;"></div>
<div class="a" style="left:242px;top:3px;width:194.85px;height:13.6px;background:#fff2cc;"></div>
<div class="t" style="top:4.5px;font-size:5.2px;line-height:5.2px;color:#333;font-weight:normal;font-style:normal;left:283.95px;width:0;display:flex;justify-content:center;">MG</div>
<div class="t" style="top:4.5px;font-size:5.2px;line-height:5.2px;color:#333;font-weight:normal;font-style:normal;left:367.15px;width:0;display:flex;justify-content:center;">MG</div>
<div class="t" style="top:11.6px;font-size:5.2px;line-height:5.2px;color:#333;font-weight:normal;font-style:normal;left:367.15px;width:0;display:flex;justify-content:center;">BMDM</div>
<div class="t" style="top:11.6px;font-size:5.2px;line-height:5.2px;color:#333;font-weight:normal;font-style:normal;left:422.62px;width:0;display:flex;justify-content:center;">BMDM</div>
<div class="a" style="left:242px;top:16.6px;width:194.85px;height:6.9px;background:#ffffff;"></div>
<div class="t" style="top:18.2px;font-size:5.4px;line-height:5.4px;color:#000;font-weight:bold;font-style:normal;left:339.43px;width:0;display:flex;justify-content:center;">TREM2</div>
<div class="a" style="left:242px;top:23.5px;width:194.85px;height:6.5px;background:#ffffff;"></div>
<div class="t" style="top:25.39px;font-size:4.81px;line-height:4.81px;color:#ff1a1a;font-weight:normal;font-style:italic;left:256.4px;width:0;display:flex;justify-content:center;">SIGLEC10</div>
<div class="t" style="top:25px;font-size:5.6px;line-height:5.6px;color:#ff1a1a;font-weight:normal;font-style:italic;left:284.3px;width:0;display:flex;justify-content:center;">P2RY12</div>
<div class="t" style="top:25.27px;font-size:5.07px;line-height:5.07px;color:#ff1a1a;font-weight:normal;font-style:italic;left:311.85px;width:0;display:flex;justify-content:center;">TMEM119</div>
<div class="t" style="top:25px;font-size:5.6px;line-height:5.6px;color:#ff1a1a;font-weight:normal;font-style:italic;left:339.5px;width:0;display:flex;justify-content:center;">AIF1</div>
<div class="t" style="top:25px;font-size:5.6px;line-height:5.6px;color:#ff1a1a;font-weight:normal;font-style:italic;left:367.45px;width:0;display:flex;justify-content:center;">CD45</div>
<div class="t" style="top:25px;font-size:5.6px;line-height:5.6px;color:#ff1a1a;font-weight:normal;font-style:normal;left:395.1px;width:0;display:flex;justify-content:center;">CD163</div>
<div class="t" style="top:25px;font-size:5.6px;line-height:5.6px;color:#ff1a1a;font-weight:normal;font-style:italic;left:422.62px;width:0;display:flex;justify-content:center;">ITGA4</div>
<div class="a" style="left:242.5px;top:30px;width:27.8px;height:13.66px;background:#548235;"></div>
<div class="a" style="left:242.5px;top:43.66px;width:27.8px;height:13.66px;background:#a9d08e;"></div>
<div class="a" style="left:242.5px;top:57.33px;width:27.8px;height:6.83px;background:#e2efda;"></div>
<div class="a" style="left:242.5px;top:64.16px;width:27.8px;height:6.83px;background:#a9d08e;"></div>
<div class="a" style="left:242.5px;top:70.99px;width:27.8px;height:6.83px;background:#548235;"></div>
<div class="a" style="left:242.5px;top:77.82px;width:27.8px;height:13.66px;background:#a9d08e;"></div>
<div class="a" style="left:242.5px;top:91.48px;width:27.8px;height:6.83px;background:#e2efda;"></div>
<div class="a" style="left:242.5px;top:98.31px;width:27.8px;height:6.83px;background:#548235;"></div>
<div class="a" style="left:242.5px;top:105.14px;width:27.8px;height:13.66px;background:#a9d08e;"></div>
<div class="a" style="left:242.5px;top:118.81px;width:27.8px;height:6.83px;background:#e2efda;"></div>
<div class="a" style="left:242.5px;top:125.64px;width:27.8px;height:13.66px;background:#a9d08e;"></div>
<div class="a" style="left:242.5px;top:146.3px;width:27.8px;height:14px;background:#a9d08e;"></div>
<div class="a" style="left:242.5px;top:160.3px;width:27.8px;height:7px;background:#548235;"></div>
<div class="a" style="left:242.5px;top:174.1px;width:27.8px;height:34.5px;background:#548235;"></div>
<div class="a" style="left:242.5px;top:216px;width:27.8px;height:20.6px;background:#548235;"></div>
<div class="a" style="left:242.5px;top:244.2px;width:27.8px;height:20.8px;background:#548235;"></div>
<div class="a" style="left:270.3px;top:30px;width:28px;height:20.49px;background:#548235;"></div>
<div class="a" style="left:270.3px;top:50.49px;width:28px;height:27.33px;background:#a9d08e;"></div>
<div class="a" style="left:270.3px;top:77.82px;width:28px;height:27.33px;background:#548235;"></div>
<div class="a" style="left:270.3px;top:105.14px;width:28px;height:6.83px;background:#a9d08e;"></div>
<div class="a" style="left:270.3px;top:111.98px;width:28px;height:27.33px;background:#548235;"></div>
<div class="a" style="left:270.3px;top:146.3px;width:28px;height:21px;background:#548235;"></div>
<div class="a" style="left:270.3px;top:174.1px;width:28px;height:34.5px;background:#548235;"></div>
<div class="a" style="left:270.3px;top:216px;width:28px;height:20.6px;background:#548235;"></div>
<div class="a" style="left:270.3px;top:244.2px;width:28px;height:20.8px;background:#548235;"></div>
<div class="a" style="left:298.3px;top:30px;width:27.1px;height:13.66px;background:#a9d08e;"></div>
<div class="a" style="left:298.3px;top:43.66px;width:27.1px;height:6.83px;background:#548235;"></div>
<div class="a" style="left:298.3px;top:50.49px;width:27.1px;height:6.83px;background:#e2efda;"></div>
<div class="a" style="left:298.3px;top:57.33px;width:27.1px;height:6.83px;background:#fce4d6;"></div>
<div class="a" style="left:298.3px;top:64.16px;width:27.1px;height:6.83px;background:#e2efda;"></div>
<div class="a" style="left:298.3px;top:70.99px;width:27.1px;height:13.66px;background:#a9d08e;"></div>
<div class="a" style="left:298.3px;top:84.65px;width:27.1px;height:27.33px;background:#e2efda;"></div>
<div class="a" style="left:298.3px;top:111.98px;width:27.1px;height:27.33px;background:#a9d08e;"></div>
<div class="a" style="left:298.3px;top:146.3px;width:27.1px;height:14px;background:#e2efda;"></div>
<div class="a" style="left:298.3px;top:160.3px;width:27.1px;height:7px;background:#a9d08e;"></div>
<div class="a" style="left:298.3px;top:174.1px;width:27.1px;height:6.9px;background:#548235;"></div>
<div class="a" style="left:298.3px;top:181px;width:27.1px;height:20.7px;background:#a9d08e;"></div>
<div class="a" style="left:298.3px;top:201.7px;width:27.1px;height:6.9px;background:#548235;"></div>
<div class="a" style="left:298.3px;top:216px;width:27.1px;height:20.6px;background:#548235;"></div>
<div class="a" style="left:298.3px;top:244.2px;width:27.1px;height:20.8px;background:#548235;"></div>
<div class="a" style="left:325.4px;top:30px;width:28.2px;height:13.66px;background:#548235;"></div>
<div class="a" style="left:325.4px;top:43.66px;width:28.2px;height:6.83px;background:#a9d08e;"></div>
<div class="a" style="left:325.4px;top:50.49px;width:28.2px;height:6.83px;background:#548235;"></div>
<div class="a" style="left:325.4px;top:57.33px;width:28.2px;height:6.83px;background:#a9d08e;"></div>
<div class="a" style="left:325.4px;top:64.16px;width:28.2px;height:61.48px;background:#548235;"></div>
<div class="a" style="left:325.4px;top:125.64px;width:28.2px;height:6.83px;background:#a9d08e;"></div>
<div class="a" style="left:325.4px;top:132.47px;width:28.2px;height:6.83px;background:#548235;"></div>
<div class="a" style="left:325.4px;top:146.3px;width:28.2px;height:21px;background:#548235;"></div>
<div class="a" style="left:325.4px;top:174.1px;width:28.2px;height:34.5px;background:#548235;"></div>
<div class="a" style="left:325.4px;top:216px;width:28.2px;height:20.6px;background:#548235;"></div>
<div class="a" style="left:325.4px;top:244.2px;width:28.2px;height:20.8px;background:#548235;"></div>
<div class="a" style="left:353.6px;top:30px;width:27.7px;height:13.66px;background:#548235;"></div>
<div class="a" style="left:353.6px;top:43.66px;width:27.7px;height:6.83px;background:#e2efda;"></div>
<div class="a" style="left:353.6px;top:50.49px;width:27.7px;height:6.83px;background:#548235;"></div>
<div class="a" style="left:353.6px;top:57.33px;width:27.7px;height:6.83px;background:#a9d08e;"></div>
<div class="a" style="left:353.6px;top:64.16px;width:27.7px;height:13.66px;background:#548235;"></div>
<div class="a" style="left:353.6px;top:77.82px;width:27.7px;height:6.83px;background:#a9d08e;"></div>
<div class="a" style="left:353.6px;top:84.65px;width:27.7px;height:27.33px;background:#548235;"></div>
<div class="a" style="left:353.6px;top:111.98px;width:27.7px;height:13.66px;background:#a9d08e;"></div>
<div class="a" style="left:353.6px;top:125.64px;width:27.7px;height:6.83px;background:#e2efda;"></div>
<div class="a" style="left:353.6px;top:132.47px;width:27.7px;height:6.83px;background:#548235;"></div>
<div class="a" style="left:353.6px;top:146.3px;width:27.7px;height:21px;background:#548235;"></div>
<div class="a" style="left:353.6px;top:174.1px;width:27.7px;height:34.5px;background:#548235;"></div>
<div class="a" style="left:353.6px;top:216px;width:27.7px;height:20.6px;background:#548235;"></div>
<div class="a" style="left:353.6px;top:244.2px;width:27.7px;height:20.8px;background:#548235;"></div>
<div class="a" style="left:381.3px;top:30px;width:27.6px;height:13.66px;background:#a9d08e;"></div>
<div class="a" style="left:381.3px;top:43.66px;width:27.6px;height:6.83px;background:#e2efda;"></div>
<div class="a" style="left:381.3px;top:50.49px;width:27.6px;height:6.83px;background:#c6e0b4;"></div>
<div class="a" style="left:381.3px;top:57.33px;width:27.6px;height:13.66px;background:#a9d08e;"></div>
<div class="a" style="left:381.3px;top:70.99px;width:27.6px;height:27.32px;background:#e2efda;"></div>
<div class="a" style="left:381.3px;top:98.31px;width:27.6px;height:6.83px;background:#a9d08e;"></div>
<div class="a" style="left:381.3px;top:105.14px;width:27.6px;height:20.49px;background:#e2efda;"></div>
<div class="a" style="left:381.3px;top:125.64px;width:27.6px;height:6.83px;background:#fce4d6;"></div>
<div class="a" style="left:381.3px;top:132.47px;width:27.6px;height:6.83px;background:#c6e0b4;"></div>
<div class="a" style="left:381.3px;top:146.3px;width:27.6px;height:14px;background:#a9d08e;"></div>
<div class="a" style="left:381.3px;top:160.3px;width:27.6px;height:7px;background:#e2efda;"></div>
<div class="a" style="left:381.3px;top:174.1px;width:27.6px;height:34.5px;background:#548235;"></div>
<div class="a" style="left:381.3px;top:216px;width:27.6px;height:6.87px;background:#e2efda;"></div>
<div class="a" style="left:381.3px;top:222.87px;width:27.6px;height:13.73px;background:#548235;"></div>
<div class="a" style="left:381.3px;top:244.2px;width:27.6px;height:6.93px;background:#548235;"></div>
<div class="a" style="left:381.3px;top:251.13px;width:27.6px;height:13.87px;background:#e2efda;"></div>
<div class="a" style="left:408.9px;top:30px;width:27.45px;height:20.49px;background:#fce4d6;"></div>
<div class="a" style="left:408.9px;top:50.49px;width:27.45px;height:20.49px;background:#e2efda;"></div>
<div class="a" style="left:408.9px;top:70.99px;width:27.45px;height:13.66px;background:#fce4d6;"></div>
<div class="a" style="left:408.9px;top:84.65px;width:27.45px;height:20.49px;background:#e2efda;"></div>
<div class="a" style="left:408.9px;top:105.14px;width:27.45px;height:6.83px;background:#fce4d6;"></div>
<div class="a" style="left:408.9px;top:111.98px;width:27.45px;height:27.33px;background:#e2efda;"></div>
<div class="a" style="left:408.9px;top:146.3px;width:27.45px;height:21px;background:#e2efda;"></div>
<div class="a" style="left:408.9px;top:174.1px;width:27.45px;height:34.5px;background:#e2efda;"></div>
<div class="a" style="left:408.9px;top:216px;width:27.45px;height:6.87px;background:#e2efda;"></div>
<div class="a" style="left:408.9px;top:222.87px;width:27.45px;height:6.87px;background:#a9d08e;"></div>
<div class="a" style="left:408.9px;top:229.73px;width:27.45px;height:6.87px;background:#e2efda;"></div>
<div class="a" style="left:408.9px;top:244.2px;width:27.45px;height:6.93px;background:#e2efda;"></div>
<div class="a" style="left:408.9px;top:251.13px;width:27.45px;height:13.87px;background:#fce4d6;"></div>
<div class="a" style="left:242px;top:2.9px;width:194.85px;height:1px;background:#8c8c7c;"></div>
<div class="a" style="left:242px;top:16.1px;width:194.85px;height:1px;background:#a8a290;"></div>
<div class="a" style="left:242px;top:23.05px;width:194.85px;height:0.9px;background:#6a6a6a;"></div>
<div class="a" style="left:324.9px;top:3px;width:1px;height:13.6px;background:#6e6a5e;"></div>
<div class="a" style="left:408.4px;top:3px;width:1px;height:13.6px;background:#6e6a5e;"></div>
<div class="a" style="left:269.85px;top:23.5px;width:0.9px;height:6.5px;background:#6a6a6a;"></div>
<div class="a" style="left:297.85px;top:23.5px;width:0.9px;height:6.5px;background:#6a6a6a;"></div>
<div class="a" style="left:324.95px;top:23.5px;width:0.9px;height:6.5px;background:#6a6a6a;"></div>
<div class="a" style="left:353.15px;top:23.5px;width:0.9px;height:6.5px;background:#6a6a6a;"></div>
<div class="a" style="left:380.85px;top:23.5px;width:0.9px;height:6.5px;background:#6a6a6a;"></div>
<div class="a" style="left:408.45px;top:23.5px;width:0.9px;height:6.5px;background:#6a6a6a;"></div>
<div class="a" style="left:242px;top:29.5px;width:194.85px;height:1px;background:#3a3a3a;"></div>
<div class="a" style="left:242px;top:138.8px;width:194.85px;height:1px;background:#5e5e5e;"></div>
<div class="a" style="left:269.85px;top:30px;width:0.9px;height:109.3px;background:#2b2b2b;"></div>
<div class="a" style="left:297.85px;top:30px;width:0.9px;height:109.3px;background:#2b2b2b;"></div>
<div class="a" style="left:324.95px;top:30px;width:0.9px;height:109.3px;background:#2b2b2b;"></div>
<div class="a" style="left:353.15px;top:30px;width:0.9px;height:109.3px;background:#2b2b2b;"></div>
<div class="a" style="left:380.85px;top:30px;width:0.9px;height:109.3px;background:#2b2b2b;"></div>
<div class="a" style="left:408.45px;top:30px;width:0.9px;height:109.3px;background:#2b2b2b;"></div>
<div class="a" style="left:242px;top:49.99px;width:194.85px;height:1px;background:#5a5a5a;"></div>
<div class="a" style="left:242px;top:84.15px;width:194.85px;height:1px;background:#5a5a5a;"></div>
<div class="a" style="left:242px;top:111.48px;width:194.85px;height:1px;background:#5a5a5a;"></div>
<div class="a" style="left:242px;top:145.8px;width:194.85px;height:1px;background:#3a3a3a;"></div>
<div class="a" style="left:242px;top:166.8px;width:194.85px;height:1px;background:#5e5e5e;"></div>
<div class="a" style="left:269.85px;top:146.3px;width:0.9px;height:21px;background:#2b2b2b;"></div>
<div class="a" style="left:297.85px;top:146.3px;width:0.9px;height:21px;background:#2b2b2b;"></div>
<div class="a" style="left:324.95px;top:146.3px;width:0.9px;height:21px;background:#2b2b2b;"></div>
<div class="a" style="left:353.15px;top:146.3px;width:0.9px;height:21px;background:#2b2b2b;"></div>
<div class="a" style="left:380.85px;top:146.3px;width:0.9px;height:21px;background:#2b2b2b;"></div>
<div class="a" style="left:408.45px;top:146.3px;width:0.9px;height:21px;background:#2b2b2b;"></div>
<div class="a" style="left:242px;top:173.6px;width:194.85px;height:1px;background:#3a3a3a;"></div>
<div class="a" style="left:242px;top:208.1px;width:194.85px;height:1px;background:#5e5e5e;"></div>
<div class="a" style="left:269.85px;top:174.1px;width:0.9px;height:34.5px;background:#2b2b2b;"></div>
<div class="a" style="left:297.85px;top:174.1px;width:0.9px;height:34.5px;background:#2b2b2b;"></div>
<div class="a" style="left:324.95px;top:174.1px;width:0.9px;height:34.5px;background:#2b2b2b;"></div>
<div class="a" style="left:353.15px;top:174.1px;width:0.9px;height:34.5px;background:#2b2b2b;"></div>
<div class="a" style="left:380.85px;top:174.1px;width:0.9px;height:34.5px;background:#2b2b2b;"></div>
<div class="a" style="left:408.45px;top:174.1px;width:0.9px;height:34.5px;background:#2b2b2b;"></div>
<div class="a" style="left:242px;top:215.5px;width:194.85px;height:1px;background:#3a3a3a;"></div>
<div class="a" style="left:242px;top:236.1px;width:194.85px;height:1px;background:#5e5e5e;"></div>
<div class="a" style="left:269.85px;top:216px;width:0.9px;height:20.6px;background:#2b2b2b;"></div>
<div class="a" style="left:297.85px;top:216px;width:0.9px;height:20.6px;background:#2b2b2b;"></div>
<div class="a" style="left:324.95px;top:216px;width:0.9px;height:20.6px;background:#2b2b2b;"></div>
<div class="a" style="left:353.15px;top:216px;width:0.9px;height:20.6px;background:#2b2b2b;"></div>
<div class="a" style="left:380.85px;top:216px;width:0.9px;height:20.6px;background:#2b2b2b;"></div>
<div class="a" style="left:408.45px;top:216px;width:0.9px;height:20.6px;background:#2b2b2b;"></div>
<div class="a" style="left:242px;top:243.7px;width:194.85px;height:1px;background:#3a3a3a;"></div>
<div class="a" style="left:242px;top:264.5px;width:194.85px;height:1px;background:#5e5e5e;"></div>
<div class="a" style="left:269.85px;top:244.2px;width:0.9px;height:20.8px;background:#2b2b2b;"></div>
<div class="a" style="left:297.85px;top:244.2px;width:0.9px;height:20.8px;background:#2b2b2b;"></div>
<div class="a" style="left:324.95px;top:244.2px;width:0.9px;height:20.8px;background:#2b2b2b;"></div>
<div class="a" style="left:353.15px;top:244.2px;width:0.9px;height:20.8px;background:#2b2b2b;"></div>
<div class="a" style="left:380.85px;top:244.2px;width:0.9px;height:20.8px;background:#2b2b2b;"></div>
<div class="a" style="left:408.45px;top:244.2px;width:0.9px;height:20.8px;background:#2b2b2b;"></div>
<div class="a" style="left:242px;top:3px;width:1px;height:136.3px;background:#1a1a1a;"></div>
<div class="a" style="left:435.85px;top:3px;width:1px;height:136.3px;background:#3a3a3a;"></div>
<div class="a" style="left:242px;top:146.3px;width:1px;height:21px;background:#1a1a1a;"></div>
<div class="a" style="left:435.85px;top:146.3px;width:1px;height:21px;background:#3a3a3a;"></div>
<div class="a" style="left:242px;top:174.1px;width:1px;height:34.5px;background:#1a1a1a;"></div>
<div class="a" style="left:435.85px;top:174.1px;width:1px;height:34.5px;background:#3a3a3a;"></div>
<div class="a" style="left:242px;top:216px;width:1px;height:20.6px;background:#1a1a1a;"></div>
<div class="a" style="left:435.85px;top:216px;width:1px;height:20.6px;background:#3a3a3a;"></div>
<div class="a" style="left:242px;top:244.2px;width:1px;height:20.8px;background:#1a1a1a;"></div>
<div class="a" style="left:435.85px;top:244.2px;width:1px;height:20.8px;background:#3a3a3a;"></div>
<div class="a" style="left:44px;top:274px;width:195px;height:13.3px;background:#fff2cc;"></div>
<div class="t" style="top:275.5px;font-size:5.2px;line-height:5.2px;color:#333;font-weight:normal;font-style:normal;left:100.05px;width:0;display:flex;justify-content:center;">MG</div>
<div class="t" style="top:275.5px;font-size:5.2px;line-height:5.2px;color:#333;font-weight:normal;font-style:normal;left:183.27px;width:0;display:flex;justify-content:center;">MG</div>
<div class="t" style="top:282.6px;font-size:5.2px;line-height:5.2px;color:#333;font-weight:normal;font-style:normal;left:183.27px;width:0;display:flex;justify-content:center;">BMDM</div>
<div class="t" style="top:282.6px;font-size:5.2px;line-height:5.2px;color:#333;font-weight:normal;font-style:normal;left:224.72px;width:0;display:flex;justify-content:center;">BMDM</div>
<div class="a" style="left:44px;top:287.3px;width:195px;height:7px;background:#ffffff;"></div>
<div class="t" style="top:288.9px;font-size:5.4px;line-height:5.4px;color:#000;font-weight:bold;font-style:normal;left:141.5px;width:0;display:flex;justify-content:center;">CD163</div>
<div class="a" style="left:44px;top:294.3px;width:195px;height:7.1px;background:#ffffff;"></div>
<div class="t" style="top:296.19px;font-size:4.81px;line-height:4.81px;color:#ff1a1a;font-weight:normal;font-style:italic;left:58.45px;width:0;display:flex;justify-content:center;">SIGLEC10</div>
<div class="t" style="top:295.8px;font-size:5.6px;line-height:5.6px;color:#ff1a1a;font-weight:normal;font-style:italic;left:86.43px;width:0;display:flex;justify-content:center;">TREM2</div>
<div class="t" style="top:295.8px;font-size:5.6px;line-height:5.6px;color:#ff1a1a;font-weight:normal;font-style:italic;left:114.08px;width:0;display:flex;justify-content:center;">P2RY12</div>
<div class="t" style="top:296.07px;font-size:5.07px;line-height:5.07px;color:#ff1a1a;font-weight:normal;font-style:italic;left:141.65px;width:0;display:flex;justify-content:center;">TMEM119</div>
<div class="t" style="top:295.8px;font-size:5.6px;line-height:5.6px;color:#ff1a1a;font-weight:normal;font-style:italic;left:169.62px;width:0;display:flex;justify-content:center;">AIF1</div>
<div class="t" style="top:295.8px;font-size:5.6px;line-height:5.6px;color:#ff1a1a;font-weight:normal;font-style:italic;left:197.3px;width:0;display:flex;justify-content:center;">CD45</div>
<div class="t" style="top:295.8px;font-size:5.6px;line-height:5.6px;color:#ff1a1a;font-weight:normal;font-style:italic;left:224.72px;width:0;display:flex;justify-content:center;">ITGA4</div>
<div class="a" style="left:44.5px;top:301.4px;width:27.9px;height:13.82px;background:#a9d08e;"></div>
<div class="a" style="left:44.5px;top:315.22px;width:27.9px;height:6.91px;background:#e2efda;"></div>
<div class="a" style="left:44.5px;top:322.14px;width:27.9px;height:6.91px;background:#a9d08e;"></div>
<div class="a" style="left:44.5px;top:329.05px;width:27.9px;height:6.91px;background:#e2efda;"></div>
<div class="a" style="left:44.5px;top:335.96px;width:27.9px;height:6.91px;background:#548235;"></div>
<div class="a" style="left:44.5px;top:342.88px;width:27.9px;height:6.91px;background:#e2efda;"></div>
<div class="a" style="left:44.5px;top:349.79px;width:27.9px;height:6.91px;background:#a9d08e;"></div>
<div class="a" style="left:44.5px;top:356.7px;width:27.9px;height:6.91px;background:#c6e0b4;"></div>
<div class="a" style="left:44.5px;top:363.61px;width:27.9px;height:6.91px;background:#a9d08e;"></div>
<div class="a" style="left:44.5px;top:370.52px;width:27.9px;height:13.83px;background:#e2efda;"></div>
<div class="a" style="left:44.5px;top:384.35px;width:27.9px;height:6.91px;background:#a9d08e;"></div>
<div class="a" style="left:44.5px;top:391.26px;width:27.9px;height:6.91px;background:#e2efda;"></div>
<div class="a" style="left:44.5px;top:398.18px;width:27.9px;height:13.82px;background:#a9d08e;"></div>
<div class="a" style="left:44.5px;top:419.8px;width:27.9px;height:6.83px;background:#a9d08e;"></div>
<div class="a" style="left:44.5px;top:426.63px;width:27.9px;height:13.67px;background:#e2efda;"></div>
<div class="a" style="left:44.5px;top:447.2px;width:27.9px;height:33.8px;background:#548235;"></div>
<div class="a" style="left:44.5px;top:488px;width:27.9px;height:6.8px;background:#a9d08e;"></div>
<div class="a" style="left:44.5px;top:494.8px;width:27.9px;height:13.6px;background:#548235;"></div>
<div class="a" style="left:44.5px;top:515px;width:27.9px;height:14.4px;background:#548235;"></div>
<div class="a" style="left:44.5px;top:529.4px;width:27.9px;height:7.2px;background:#a9d08e;"></div>
<div class="a" style="left:72.4px;top:301.4px;width:28.05px;height:13.82px;background:#a9d08e;"></div>
<div class="a" style="left:72.4px;top:315.22px;width:28.05px;height:6.91px;background:#e2efda;"></div>
<div class="a" style="left:72.4px;top:322.14px;width:28.05px;height:6.91px;background:#c6e0b4;"></div>
<div class="a" style="left:72.4px;top:329.05px;width:28.05px;height:13.83px;background:#a9d08e;"></div>
<div class="a" style="left:72.4px;top:342.88px;width:28.05px;height:27.65px;background:#e2efda;"></div>
<div class="a" style="left:72.4px;top:370.52px;width:28.05px;height:6.91px;background:#a9d08e;"></div>
<div class="a" style="left:72.4px;top:377.44px;width:28.05px;height:20.74px;background:#e2efda;"></div>
<div class="a" style="left:72.4px;top:398.18px;width:28.05px;height:6.91px;background:#fce4d6;"></div>
<div class="a" style="left:72.4px;top:405.09px;width:28.05px;height:6.91px;background:#c6e0b4;"></div>
<div class="a" style="left:72.4px;top:419.8px;width:28.05px;height:13.67px;background:#a9d08e;"></div>
<div class="a" style="left:72.4px;top:433.47px;width:28.05px;height:6.83px;background:#e2efda;"></div>
<div class="a" style="left:72.4px;top:447.2px;width:28.05px;height:33.8px;background:#548235;"></div>
<div class="a" style="left:72.4px;top:488px;width:28.05px;height:6.8px;background:#e2efda;"></div>
<div class="a" style="left:72.4px;top:494.8px;width:28.05px;height:13.6px;background:#548235;"></div>
<div class="a" style="left:72.4px;top:515px;width:28.05px;height:7.2px;background:#548235;"></div>
<div class="a" style="left:72.4px;top:522.2px;width:28.05px;height:14.4px;background:#e2efda;"></div>
<div class="a" style="left:100.45px;top:301.4px;width:27.25px;height:34.56px;background:#e2efda;"></div>
<div class="a" style="left:100.45px;top:335.96px;width:27.25px;height:6.91px;background:#a9d08e;"></div>
<div class="a" style="left:100.45px;top:342.88px;width:27.25px;height:6.91px;background:#fce4d6;"></div>
<div class="a" style="left:100.45px;top:349.79px;width:27.25px;height:6.91px;background:#e2efda;"></div>
<div class="a" style="left:100.45px;top:356.7px;width:27.25px;height:34.56px;background:#fce4d6;"></div>
<div class="a" style="left:100.45px;top:391.26px;width:27.25px;height:6.91px;background:#f4b084;"></div>
<div class="a" style="left:100.45px;top:398.18px;width:27.25px;height:13.82px;background:#fce4d6;"></div>
<div class="a" style="left:100.45px;top:419.8px;width:27.25px;height:13.67px;background:#e2efda;"></div>
<div class="a" style="left:100.45px;top:433.47px;width:27.25px;height:6.83px;background:#fce4d6;"></div>
<div class="a" style="left:100.45px;top:447.2px;width:27.25px;height:6.76px;background:#a9d08e;"></div>
<div class="a" style="left:100.45px;top:453.96px;width:27.25px;height:6.76px;background:#548235;"></div>
<div class="a" style="left:100.45px;top:460.72px;width:27.25px;height:13.52px;background:#a9d08e;"></div>
<div class="a" style="left:100.45px;top:474.24px;width:27.25px;height:6.76px;background:#548235;"></div>
<div class="a" style="left:100.45px;top:488px;width:27.25px;height:6.8px;background:#fce4d6;"></div>
<div class="a" style="left:100.45px;top:494.8px;width:27.25px;height:6.8px;background:#a9d08e;"></div>
<div class="a" style="left:100.45px;top:501.6px;width:27.25px;height:6.8px;background:#e2efda;"></div>
<div class="a" style="left:100.45px;top:515px;width:27.25px;height:14.4px;background:#e2efda;"></div>
<div class="a" style="left:100.45px;top:529.4px;width:27.25px;height:7.2px;background:#fce4d6;"></div>
<div class="a" style="left:127.7px;top:301.4px;width:27.9px;height:20.74px;background:#e2efda;"></div>
<div class="a" style="left:127.7px;top:322.14px;width:27.9px;height:13.82px;background:#fce4d6;"></div>
<div class="a" style="left:127.7px;top:335.96px;width:27.9px;height:6.91px;background:#e2efda;"></div>
<div class="a" style="left:127.7px;top:342.88px;width:27.9px;height:13.82px;background:#fce4d6;"></div>
<div class="a" style="left:127.7px;top:356.7px;width:27.9px;height:27.65px;background:#e2efda;"></div>
<div class="a" style="left:127.7px;top:384.35px;width:27.9px;height:27.65px;background:#fce4d6;"></div>
<div class="a" style="left:127.7px;top:419.8px;width:27.9px;height:6.83px;background:#fce4d6;"></div>
<div class="a" style="left:127.7px;top:426.63px;width:27.9px;height:6.83px;background:#e2efda;"></div>
<div class="a" style="left:127.7px;top:433.47px;width:27.9px;height:6.83px;background:#fce4d6;"></div>
<div class="a" style="left:127.7px;top:447.2px;width:27.9px;height:33.8px;background:#a9d08e;"></div>
<div class="a" style="left:127.7px;top:488px;width:27.9px;height:6.8px;background:#e2efda;"></div>
<div class="a" style="left:127.7px;top:494.8px;width:27.9px;height:6.8px;background:#548235;"></div>
<div class="a" style="left:127.7px;top:501.6px;width:27.9px;height:6.8px;background:#a9d08e;"></div>
<div class="a" style="left:127.7px;top:515px;width:27.9px;height:7.2px;background:#548235;"></div>
<div class="a" style="left:127.7px;top:522.2px;width:27.9px;height:7.2px;background:#fce4d6;"></div>
<div class="a" style="left:127.7px;top:529.4px;width:27.9px;height:7.2px;background:#e2efda;"></div>
<div class="a" style="left:155.6px;top:301.4px;width:28.05px;height:13.82px;background:#a9d08e;"></div>
<div class="a" style="left:155.6px;top:315.22px;width:28.05px;height:6.91px;background:#548235;"></div>
<div class="a" style="left:155.6px;top:322.14px;width:28.05px;height:13.82px;background:#a9d08e;"></div>
<div class="a" style="left:155.6px;top:335.96px;width:28.05px;height:6.91px;background:#548235;"></div>
<div class="a" style="left:155.6px;top:342.88px;width:28.05px;height:6.91px;background:#fce4d6;"></div>
<div class="a" style="left:155.6px;top:349.79px;width:28.05px;height:20.74px;background:#a9d08e;"></div>
<div class="a" style="left:155.6px;top:370.52px;width:28.05px;height:13.83px;background:#e2efda;"></div>
<div class="a" style="left:155.6px;top:384.35px;width:28.05px;height:6.91px;background:#a9d08e;"></div>
<div class="a" style="left:155.6px;top:391.26px;width:28.05px;height:6.91px;background:#c6e0b4;"></div>
<div class="a" style="left:155.6px;top:398.18px;width:28.05px;height:6.91px;background:#e2efda;"></div>
<div class="a" style="left:155.6px;top:405.09px;width:28.05px;height:6.91px;background:#a9d08e;"></div>
<div class="a" style="left:155.6px;top:419.8px;width:28.05px;height:6.83px;background:#548235;"></div>
<div class="a" style="left:155.6px;top:426.63px;width:28.05px;height:13.67px;background:#a9d08e;"></div>
<div class="a" style="left:155.6px;top:447.2px;width:28.05px;height:6.76px;background:#e2efda;"></div>
<div class="a" style="left:155.6px;top:453.96px;width:28.05px;height:20.28px;background:#a9d08e;"></div>
<div class="a" style="left:155.6px;top:474.24px;width:28.05px;height:6.76px;background:#548235;"></div>
<div class="a" style="left:155.6px;top:488px;width:28.05px;height:6.8px;background:#a9d08e;"></div>
<div class="a" style="left:155.6px;top:494.8px;width:28.05px;height:13.6px;background:#548235;"></div>
<div class="a" style="left:155.6px;top:515px;width:28.05px;height:14.4px;background:#548235;"></div>
<div class="a" style="left:155.6px;top:529.4px;width:28.05px;height:7.2px;background:#e2efda;"></div>
<div class="a" style="left:183.65px;top:301.4px;width:27.3px;height:13.82px;background:#548235;"></div>
<div class="a" style="left:183.65px;top:315.22px;width:27.3px;height:6.91px;background:#e2efda;"></div>
<div class="a" style="left:183.65px;top:322.14px;width:27.3px;height:13.82px;background:#a9d08e;"></div>
<div class="a" style="left:183.65px;top:335.96px;width:27.3px;height:6.91px;background:#548235;"></div>
<div class="a" style="left:183.65px;top:342.88px;width:27.3px;height:6.91px;background:#e2efda;"></div>
<div class="a" style="left:183.65px;top:349.79px;width:27.3px;height:62.21px;background:#a9d08e;"></div>
<div class="a" style="left:183.65px;top:419.8px;width:27.3px;height:20.5px;background:#548235;"></div>
<div class="a" style="left:183.65px;top:447.2px;width:27.3px;height:6.76px;background:#c6e0b4;"></div>
<div class="a" style="left:183.65px;top:453.96px;width:27.3px;height:20.28px;background:#a9d08e;"></div>
<div class="a" style="left:183.65px;top:474.24px;width:27.3px;height:6.76px;background:#548235;"></div>
<div class="a" style="left:183.65px;top:488px;width:27.3px;height:6.8px;background:#a9d08e;"></div>
<div class="a" style="left:183.65px;top:494.8px;width:27.3px;height:13.6px;background:#548235;"></div>
<div class="a" style="left:183.65px;top:515px;width:27.3px;height:7.2px;background:#548235;"></div>
<div class="a" style="left:183.65px;top:522.2px;width:27.3px;height:14.4px;background:#a9d08e;"></div>
<div class="a" style="left:210.95px;top:301.4px;width:27.55px;height:13.82px;background:#e2efda;"></div>
<div class="a" style="left:210.95px;top:315.22px;width:27.55px;height:6.91px;background:#fce4d6;"></div>
<div class="a" style="left:210.95px;top:322.14px;width:27.55px;height:34.56px;background:#e2efda;"></div>
<div class="a" style="left:210.95px;top:356.7px;width:27.55px;height:13.82px;background:#fce4d6;"></div>
<div class="a" style="left:210.95px;top:370.52px;width:27.55px;height:6.91px;background:#e2efda;"></div>
<div class="a" style="left:210.95px;top:377.44px;width:27.55px;height:6.91px;background:#f4b084;"></div>
<div class="a" style="left:210.95px;top:384.35px;width:27.55px;height:6.91px;background:#c6e0b4;"></div>
<div class="a" style="left:210.95px;top:391.26px;width:27.55px;height:6.91px;background:#a9d08e;"></div>
<div class="a" style="left:210.95px;top:398.18px;width:27.55px;height:13.82px;background:#e2efda;"></div>
<div class="a" style="left:210.95px;top:419.8px;width:27.55px;height:6.83px;background:#e2efda;"></div>
<div class="a" style="left:210.95px;top:426.63px;width:27.55px;height:6.83px;background:#fce4d6;"></div>
<div class="a" style="left:210.95px;top:433.47px;width:27.55px;height:6.83px;background:#a9d08e;"></div>
<div class="a" style="left:210.95px;top:447.2px;width:27.55px;height:13.52px;background:#e2efda;"></div>
<div class="a" style="left:210.95px;top:460.72px;width:27.55px;height:13.52px;background:#a9d08e;"></div>
<div class="a" style="left:210.95px;top:474.24px;width:27.55px;height:6.76px;background:#c6e0b4;"></div>
<div class="a" style="left:210.95px;top:488px;width:27.55px;height:6.8px;background:#e2efda;"></div>
<div class="a" style="left:210.95px;top:494.8px;width:27.55px;height:13.6px;background:#a9d08e;"></div>
<div class="a" style="left:210.95px;top:515px;width:27.55px;height:7.2px;background:#e2efda;"></div>
<div class="a" style="left:210.95px;top:522.2px;width:27.55px;height:7.2px;background:#fce4d6;"></div>
<div class="a" style="left:210.95px;top:529.4px;width:27.55px;height:7.2px;background:#548235;"></div>
<div class="a" style="left:44px;top:273.9px;width:195px;height:1px;background:#8c8c7c;"></div>
<div class="a" style="left:44px;top:286.8px;width:195px;height:1px;background:#a8a290;"></div>
<div class="a" style="left:44px;top:293.85px;width:195px;height:0.9px;background:#6a6a6a;"></div>
<div class="a" style="left:155.1px;top:274px;width:1px;height:13.3px;background:#6e6a5e;"></div>
<div class="a" style="left:210.45px;top:274px;width:1px;height:13.3px;background:#6e6a5e;"></div>
<div class="a" style="left:71.95px;top:294.3px;width:0.9px;height:7.1px;background:#6a6a6a;"></div>
<div class="a" style="left:100px;top:294.3px;width:0.9px;height:7.1px;background:#6a6a6a;"></div>
<div class="a" style="left:127.25px;top:294.3px;width:0.9px;height:7.1px;background:#6a6a6a;"></div>
<div class="a" style="left:155.15px;top:294.3px;width:0.9px;height:7.1px;background:#6a6a6a;"></div>
<div class="a" style="left:183.2px;top:294.3px;width:0.9px;height:7.1px;background:#6a6a6a;"></div>
<div class="a" style="left:210.5px;top:294.3px;width:0.9px;height:7.1px;background:#6a6a6a;"></div>
<div class="a" style="left:44px;top:300.9px;width:195px;height:1px;background:#3a3a3a;"></div>
<div class="a" style="left:44px;top:411.5px;width:195px;height:1px;background:#5e5e5e;"></div>
<div class="a" style="left:71.95px;top:301.4px;width:0.9px;height:110.6px;background:#2b2b2b;"></div>
<div class="a" style="left:100px;top:301.4px;width:0.9px;height:110.6px;background:#8a8a8a;"></div>
<div class="a" style="left:127.25px;top:301.4px;width:0.9px;height:110.6px;background:#2b2b2b;"></div>
<div class="a" style="left:155.15px;top:301.4px;width:0.9px;height:110.6px;background:#2b2b2b;"></div>
<div class="a" style="left:183.2px;top:301.4px;width:0.9px;height:110.6px;background:#2b2b2b;"></div>
<div class="a" style="left:210.5px;top:301.4px;width:0.9px;height:110.6px;background:#2b2b2b;"></div>
<div class="a" style="left:44px;top:321.64px;width:195px;height:1px;background:#5a5a5a;"></div>
<div class="a" style="left:44px;top:356.2px;width:195px;height:1px;background:#5a5a5a;"></div>
<div class="a" style="left:44px;top:383.85px;width:195px;height:1px;background:#5a5a5a;"></div>
<div class="a" style="left:44px;top:419.3px;width:195px;height:1px;background:#3a3a3a;"></div>
<div class="a" style="left:44px;top:439.8px;width:195px;height:1px;background:#5e5e5e;"></div>
<div class="a" style="left:71.95px;top:419.8px;width:0.9px;height:20.5px;background:#2b2b2b;"></div>
<div class="a" style="left:100px;top:419.8px;width:0.9px;height:20.5px;background:#8a8a8a;"></div>
<div class="a" style="left:127.25px;top:419.8px;width:0.9px;height:20.5px;background:#2b2b2b;"></div>
<div class="a" style="left:155.15px;top:419.8px;width:0.9px;height:20.5px;background:#2b2b2b;"></div>
<div class="a" style="left:183.2px;top:419.8px;width:0.9px;height:20.5px;background:#2b2b2b;"></div>
<div class="a" style="left:210.5px;top:419.8px;width:0.9px;height:20.5px;background:#2b2b2b;"></div>
<div class="a" style="left:44px;top:446.7px;width:195px;height:1px;background:#3a3a3a;"></div>
<div class="a" style="left:44px;top:480.5px;width:195px;height:1px;background:#5e5e5e;"></div>
<div class="a" style="left:71.95px;top:447.2px;width:0.9px;height:33.8px;background:#2b2b2b;"></div>
<div class="a" style="left:100px;top:447.2px;width:0.9px;height:33.8px;background:#8a8a8a;"></div>
<div class="a" style="left:127.25px;top:447.2px;width:0.9px;height:33.8px;background:#2b2b2b;"></div>
<div class="a" style="left:155.15px;top:447.2px;width:0.9px;height:33.8px;background:#2b2b2b;"></div>
<div class="a" style="left:183.2px;top:447.2px;width:0.9px;height:33.8px;background:#2b2b2b;"></div>
<div class="a" style="left:210.5px;top:447.2px;width:0.9px;height:33.8px;background:#2b2b2b;"></div>
<div class="a" style="left:44px;top:487.5px;width:195px;height:1px;background:#3a3a3a;"></div>
<div class="a" style="left:44px;top:507.9px;width:195px;height:1px;background:#5e5e5e;"></div>
<div class="a" style="left:71.95px;top:488px;width:0.9px;height:20.4px;background:#2b2b2b;"></div>
<div class="a" style="left:100px;top:488px;width:0.9px;height:20.4px;background:#8a8a8a;"></div>
<div class="a" style="left:127.25px;top:488px;width:0.9px;height:20.4px;background:#2b2b2b;"></div>
<div class="a" style="left:155.15px;top:488px;width:0.9px;height:20.4px;background:#2b2b2b;"></div>
<div class="a" style="left:183.2px;top:488px;width:0.9px;height:20.4px;background:#2b2b2b;"></div>
<div class="a" style="left:210.5px;top:488px;width:0.9px;height:20.4px;background:#2b2b2b;"></div>
<div class="a" style="left:44px;top:514.5px;width:195px;height:1px;background:#3a3a3a;"></div>
<div class="a" style="left:44px;top:536.1px;width:195px;height:1px;background:#5e5e5e;"></div>
<div class="a" style="left:71.95px;top:515px;width:0.9px;height:21.6px;background:#2b2b2b;"></div>
<div class="a" style="left:100px;top:515px;width:0.9px;height:21.6px;background:#8a8a8a;"></div>
<div class="a" style="left:127.25px;top:515px;width:0.9px;height:21.6px;background:#2b2b2b;"></div>
<div class="a" style="left:155.15px;top:515px;width:0.9px;height:21.6px;background:#2b2b2b;"></div>
<div class="a" style="left:183.2px;top:515px;width:0.9px;height:21.6px;background:#2b2b2b;"></div>
<div class="a" style="left:210.5px;top:515px;width:0.9px;height:21.6px;background:#2b2b2b;"></div>
<div class="a" style="left:44px;top:274px;width:1px;height:138px;background:#1a1a1a;"></div>
<div class="a" style="left:238px;top:274px;width:1px;height:138px;background:#3a3a3a;"></div>
<div class="a" style="left:44px;top:419.8px;width:1px;height:20.5px;background:#1a1a1a;"></div>
<div class="a" style="left:238px;top:419.8px;width:1px;height:20.5px;background:#3a3a3a;"></div>
<div class="a" style="left:44px;top:447.2px;width:1px;height:33.8px;background:#1a1a1a;"></div>
<div class="a" style="left:238px;top:447.2px;width:1px;height:33.8px;background:#3a3a3a;"></div>
<div class="a" style="left:44px;top:488px;width:1px;height:20.4px;background:#1a1a1a;"></div>
<div class="a" style="left:238px;top:488px;width:1px;height:20.4px;background:#3a3a3a;"></div>
<div class="a" style="left:44px;top:515px;width:1px;height:21.6px;background:#1a1a1a;"></div>
<div class="a" style="left:238px;top:515px;width:1px;height:21.6px;background:#3a3a3a;"></div>
<div class="a" style="left:242px;top:274px;width:194.85px;height:13.3px;background:#fff2cc;"></div>
<div class="t" style="top:275.5px;font-size:5.2px;line-height:5.2px;color:#333;font-weight:normal;font-style:normal;left:298.05px;width:0;display:flex;justify-content:center;">MG</div>
<div class="t" style="top:275.5px;font-size:5.2px;line-height:5.2px;color:#333;font-weight:normal;font-style:normal;left:394.98px;width:0;display:flex;justify-content:center;">MG</div>
<div class="t" style="top:282.6px;font-size:5.2px;line-height:5.2px;color:#333;font-weight:normal;font-style:normal;left:394.98px;width:0;display:flex;justify-content:center;">BMDM</div>
<div class="a" style="left:242px;top:287.3px;width:194.85px;height:7px;background:#ffffff;"></div>
<div class="t" style="top:288.9px;font-size:5.4px;line-height:5.4px;color:#000;font-weight:bold;font-style:normal;left:339.43px;width:0;display:flex;justify-content:center;">ITGA4</div>
<div class="a" style="left:242px;top:294.3px;width:194.85px;height:7.1px;background:#ffffff;"></div>
<div class="t" style="top:296.19px;font-size:4.81px;line-height:4.81px;color:#ff1a1a;font-weight:normal;font-style:italic;left:256.4px;width:0;display:flex;justify-content:center;">SIGLEC10</div>
<div class="t" style="top:295.8px;font-size:5.6px;line-height:5.6px;color:#ff1a1a;font-weight:normal;font-style:italic;left:284.3px;width:0;display:flex;justify-content:center;">TREM2</div>
<div class="t" style="top:295.8px;font-size:5.6px;line-height:5.6px;color:#ff1a1a;font-weight:normal;font-style:italic;left:311.85px;width:0;display:flex;justify-content:center;">P2RY12</div>
<div class="t" style="top:296.07px;font-size:5.07px;line-height:5.07px;color:#ff1a1a;font-weight:normal;font-style:italic;left:339.5px;width:0;display:flex;justify-content:center;">TMEM119</div>
<div class="t" style="top:295.8px;font-size:5.6px;line-height:5.6px;color:#ff1a1a;font-weight:normal;font-style:normal;left:367.45px;width:0;display:flex;justify-content:center;">CD163</div>
<div class="t" style="top:295.8px;font-size:5.6px;line-height:5.6px;color:#ff1a1a;font-weight:normal;font-style:italic;left:395.1px;width:0;display:flex;justify-content:center;">AIF1</div>
<div class="t" style="top:295.8px;font-size:5.6px;line-height:5.6px;color:#ff1a1a;font-weight:normal;font-style:italic;left:422.62px;width:0;display:flex;justify-content:center;">CD45</div>
<div class="a" style="left:242.5px;top:301.4px;width:27.8px;height:13.82px;background:#fce4d6;"></div>
<div class="a" style="left:242.5px;top:315.22px;width:27.8px;height:6.91px;background:#e2efda;"></div>
<div class="a" style="left:242.5px;top:322.14px;width:27.8px;height:13.82px;background:#fce4d6;"></div>
<div class="a" style="left:242.5px;top:335.96px;width:27.8px;height:6.91px;background:#e2efda;"></div>
<div class="a" style="left:242.5px;top:342.88px;width:27.8px;height:6.91px;background:#fce4d6;"></div>
<div class="a" style="left:242.5px;top:349.79px;width:27.8px;height:27.65px;background:#e2efda;"></div>
<div class="a" style="left:242.5px;top:377.44px;width:27.8px;height:34.56px;background:#fce4d6;"></div>
<div class="a" style="left:242.5px;top:419.8px;width:27.8px;height:13.67px;background:#e2efda;"></div>
<div class="a" style="left:242.5px;top:433.47px;width:27.8px;height:6.83px;background:#fce4d6;"></div>
<div class="a" style="left:242.5px;top:447.2px;width:27.8px;height:6.76px;background:#a9d08e;"></div>
<div class="a" style="left:242.5px;top:453.96px;width:27.8px;height:6.76px;background:#e2efda;"></div>
<div class="a" style="left:242.5px;top:460.72px;width:27.8px;height:6.76px;background:#c6e0b4;"></div>
<div class="a" style="left:242.5px;top:467.48px;width:27.8px;height:6.76px;background:#a9d08e;"></div>
<div class="a" style="left:242.5px;top:474.24px;width:27.8px;height:6.76px;background:#e2efda;"></div>
<div class="a" style="left:242.5px;top:488px;width:27.8px;height:6.8px;background:#e2efda;"></div>
<div class="a" style="left:242.5px;top:494.8px;width:27.8px;height:6.8px;background:#a9d08e;"></div>
<div class="a" style="left:242.5px;top:501.6px;width:27.8px;height:6.8px;background:#e2efda;"></div>
<div class="a" style="left:242.5px;top:515px;width:27.8px;height:7.2px;background:#e2efda;"></div>
<div class="a" style="left:242.5px;top:522.2px;width:27.8px;height:7.2px;background:#fce4d6;"></div>
<div class="a" style="left:242.5px;top:529.4px;width:27.8px;height:7.2px;background:#e2efda;"></div>
<div class="a" style="left:270.3px;top:301.4px;width:28px;height:20.74px;background:#fce4d6;"></div>
<div class="a" style="left:270.3px;top:322.14px;width:28px;height:20.74px;background:#e2efda;"></div>
<div class="a" style="left:270.3px;top:342.88px;width:28px;height:13.82px;background:#fce4d6;"></div>
<div class="a" style="left:270.3px;top:356.7px;width:28px;height:13.82px;background:#e2efda;"></div>
<div class="a" style="left:270.3px;top:370.52px;width:28px;height:6.91px;background:#c6e0b4;"></div>
<div class="a" style="left:270.3px;top:377.44px;width:28px;height:6.91px;background:#fce4d6;"></div>
<div class="a" style="left:270.3px;top:384.35px;width:28px;height:27.65px;background:#e2efda;"></div>
<div class="a" style="left:270.3px;top:419.8px;width:28px;height:20.5px;background:#e2efda;"></div>
<div class="a" style="left:270.3px;top:447.2px;width:28px;height:33.8px;background:#e2efda;"></div>
<div class="a" style="left:270.3px;top:488px;width:28px;height:6.8px;background:#e2efda;"></div>
<div class="a" style="left:270.3px;top:494.8px;width:28px;height:6.8px;background:#a9d08e;"></div>
<div class="a" style="left:270.3px;top:501.6px;width:28px;height:6.8px;background:#e2efda;"></div>
<div class="a" style="left:270.3px;top:515px;width:28px;height:7.2px;background:#e2efda;"></div>
<div class="a" style="left:270.3px;top:522.2px;width:28px;height:14.4px;background:#fce4d6;"></div>
<div class="a" style="left:298.3px;top:301.4px;width:27.1px;height:34.56px;background:#fce4d6;"></div>
<div class="a" style="left:298.3px;top:335.96px;width:27.1px;height:6.91px;background:#e2efda;"></div>
<div class="a" style="left:298.3px;top:342.88px;width:27.1px;height:6.91px;background:#fce4d6;"></div>
<div class="a" style="left:298.3px;top:349.79px;width:27.1px;height:27.65px;background:#e2efda;"></div>
<div class="a" style="left:298.3px;top:377.44px;width:27.1px;height:34.56px;background:#fce4d6;"></div>
<div class="a" style="left:298.3px;top:419.8px;width:27.1px;height:6.83px;background:#fce4d6;"></div>
<div class="a" style="left:298.3px;top:426.63px;width:27.1px;height:6.83px;background:#e2efda;"></div>
<div class="a" style="left:298.3px;top:433.47px;width:27.1px;height:6.83px;background:#fce4d6;"></div>
<div class="a" style="left:298.3px;top:447.2px;width:27.1px;height:33.8px;background:#e2efda;"></div>
<div class="a" style="left:298.3px;top:488px;width:27.1px;height:6.8px;background:#e2efda;"></div>
<div class="a" style="left:298.3px;top:494.8px;width:27.1px;height:13.6px;background:#fce4d6;"></div>
<div class="a" style="left:298.3px;top:515px;width:27.1px;height:7.2px;background:#e2efda;"></div>
<div class="a" style="left:298.3px;top:522.2px;width:27.1px;height:14.4px;background:#f4b084;"></div>
<div class="a" style="left:325.4px;top:301.4px;width:28.2px;height:6.91px;background:#fce4d6;"></div>
<div class="a" style="left:325.4px;top:308.31px;width:28.2px;height:6.91px;background:#e2efda;"></div>
<div class="a" style="left:325.4px;top:315.22px;width:28.2px;height:6.91px;background:#f4b084;"></div>
<div class="a" style="left:325.4px;top:322.14px;width:28.2px;height:13.82px;background:#fce4d6;"></div>
<div class="a" style="left:325.4px;top:335.96px;width:28.2px;height:6.91px;background:#e2efda;"></div>
<div class="a" style="left:325.4px;top:342.88px;width:28.2px;height:6.91px;background:#f4b084;"></div>
<div class="a" style="left:325.4px;top:349.79px;width:28.2px;height:20.74px;background:#fce4d6;"></div>
<div class="a" style="left:325.4px;top:370.52px;width:28.2px;height:6.91px;background:#e2efda;"></div>
<div class="a" style="left:325.4px;top:377.44px;width:28.2px;height:27.65px;background:#fce4d6;"></div>
<div class="a" style="left:325.4px;top:405.09px;width:28.2px;height:6.91px;background:#f4b084;"></div>
<div class="a" style="left:325.4px;top:419.8px;width:28.2px;height:20.5px;background:#fce4d6;"></div>
<div class="a" style="left:325.4px;top:447.2px;width:28.2px;height:27.04px;background:#e2efda;"></div>
<div class="a" style="left:325.4px;top:474.24px;width:28.2px;height:6.76px;background:#fce4d6;"></div>
<div class="a" style="left:325.4px;top:488px;width:28.2px;height:6.8px;background:#e2efda;"></div>
<div class="a" style="left:325.4px;top:494.8px;width:28.2px;height:6.8px;background:#a9d08e;"></div>
<div class="a" style="left:325.4px;top:501.6px;width:28.2px;height:6.8px;background:#fce4d6;"></div>
<div class="a" style="left:325.4px;top:515px;width:28.2px;height:7.2px;background:#e2efda;"></div>
<div class="a" style="left:325.4px;top:522.2px;width:28.2px;height:14.4px;background:#fce4d6;"></div>
<div class="a" style="left:353.6px;top:301.4px;width:27.7px;height:13.82px;background:#e2efda;"></div>
<div class="a" style="left:353.6px;top:315.22px;width:27.7px;height:6.91px;background:#fce4d6;"></div>
<div class="a" style="left:353.6px;top:322.14px;width:27.7px;height:34.56px;background:#e2efda;"></div>
<div class="a" style="left:353.6px;top:356.7px;width:27.7px;height:13.82px;background:#fce4d6;"></div>
<div class="a" style="left:353.6px;top:370.52px;width:27.7px;height:6.91px;background:#e2efda;"></div>
<div class="a" style="left:353.6px;top:377.44px;width:27.7px;height:6.91px;background:#f4b084;"></div>
<div class="a" style="left:353.6px;top:384.35px;width:27.7px;height:6.91px;background:#c6e0b4;"></div>
<div class="a" style="left:353.6px;top:391.26px;width:27.7px;height:6.91px;background:#a9d08e;"></div>
<div class="a" style="left:353.6px;top:398.18px;width:27.7px;height:13.82px;background:#e2efda;"></div>
<div class="a" style="left:353.6px;top:419.8px;width:27.7px;height:6.83px;background:#e2efda;"></div>
<div class="a" style="left:353.6px;top:426.63px;width:27.7px;height:6.83px;background:#fce4d6;"></div>
<div class="a" style="left:353.6px;top:433.47px;width:27.7px;height:6.83px;background:#a9d08e;"></div>
<div class="a" style="left:353.6px;top:447.2px;width:27.7px;height:13.52px;background:#e2efda;"></div>
<div class="a" style="left:353.6px;top:460.72px;width:27.7px;height:13.52px;background:#a9d08e;"></div>
<div class="a" style="left:353.6px;top:474.24px;width:27.7px;height:6.76px;background:#c6e0b4;"></div>
<div class="a" style="left:353.6px;top:488px;width:27.7px;height:6.8px;background:#e2efda;"></div>
<div class="a" style="left:353.6px;top:494.8px;width:27.7px;height:13.6px;background:#a9d08e;"></div>
<div class="a" style="left:353.6px;top:515px;width:27.7px;height:7.2px;background:#e2efda;"></div>
<div class="a" style="left:353.6px;top:522.2px;width:27.7px;height:7.2px;background:#fce4d6;"></div>
<div class="a" style="left:353.6px;top:529.4px;width:27.7px;height:7.2px;background:#548235;"></div>
<div class="a" style="left:381.3px;top:301.4px;width:27.6px;height:6.91px;background:#fce4d6;"></div>
<div class="a" style="left:381.3px;top:308.31px;width:27.6px;height:6.91px;background:#e2efda;"></div>
<div class="a" style="left:381.3px;top:315.22px;width:27.6px;height:6.91px;background:#fce4d6;"></div>
<div class="a" style="left:381.3px;top:322.14px;width:27.6px;height:34.56px;background:#e2efda;"></div>
<div class="a" style="left:381.3px;top:356.7px;width:27.6px;height:13.82px;background:#fce4d6;"></div>
<div class="a" style="left:381.3px;top:370.52px;width:27.6px;height:34.56px;background:#e2efda;"></div>
<div class="a" style="left:381.3px;top:405.09px;width:27.6px;height:6.91px;background:#fce4d6;"></div>
<div class="a" style="left:381.3px;top:419.8px;width:27.6px;height:6.83px;background:#e2efda;"></div>
<div class="a" style="left:381.3px;top:426.63px;width:27.6px;height:6.83px;background:#fce4d6;"></div>
<div class="a" style="left:381.3px;top:433.47px;width:27.6px;height:6.83px;background:#e2efda;"></div>
<div class="a" style="left:381.3px;top:447.2px;width:27.6px;height:6.76px;background:#a9d08e;"></div>
<div class="a" style="left:381.3px;top:453.96px;width:27.6px;height:13.52px;background:#e2efda;"></div>
<div class="a" style="left:381.3px;top:467.48px;width:27.6px;height:6.76px;background:#a9d08e;"></div>
<div class="a" style="left:381.3px;top:474.24px;width:27.6px;height:6.76px;background:#e2efda;"></div>
<div class="a" style="left:381.3px;top:488px;width:27.6px;height:13.6px;background:#a9d08e;"></div>
<div class="a" style="left:381.3px;top:501.6px;width:27.6px;height:6.8px;background:#e2efda;"></div>
<div class="a" style="left:381.3px;top:515px;width:27.6px;height:7.2px;background:#e2efda;"></div>
<div class="a" style="left:381.3px;top:522.2px;width:27.6px;height:7.2px;background:#f4b084;"></div>
<div class="a" style="left:381.3px;top:529.4px;width:27.6px;height:7.2px;background:#fce4d6;"></div>
<div class="a" style="left:408.9px;top:301.4px;width:27.45px;height:55.3px;background:#e2efda;"></div>
<div class="a" style="left:408.9px;top:356.7px;width:27.45px;height:13.82px;background:#fce4d6;"></div>
<div class="a" style="left:408.9px;top:370.52px;width:27.45px;height:6.91px;background:#e2efda;"></div>
<div class="a" style="left:408.9px;top:377.44px;width:27.45px;height:6.91px;background:#fce4d6;"></div>
<div class="a" style="left:408.9px;top:384.35px;width:27.45px;height:6.91px;background:#c6e0b4;"></div>
<div class="a" style="left:408.9px;top:391.26px;width:27.45px;height:6.91px;background:#e2efda;"></div>
<div class="a" style="left:408.9px;top:398.18px;width:27.45px;height:6.91px;background:#a9d08e;"></div>
<div class="a" style="left:408.9px;top:405.09px;width:27.45px;height:6.91px;background:#e2efda;"></div>
<div class="a" style="left:408.9px;top:419.8px;width:27.45px;height:13.67px;background:#e2efda;"></div>
<div class="a" style="left:408.9px;top:433.47px;width:27.45px;height:6.83px;background:#a9d08e;"></div>
<div class="a" style="left:408.9px;top:447.2px;width:27.45px;height:33.8px;background:#a9d08e;"></div>
<div class="a" style="left:408.9px;top:488px;width:27.45px;height:13.6px;background:#548235;"></div>
<div class="a" style="left:408.9px;top:501.6px;width:27.45px;height:6.8px;background:#e2efda;"></div>
<div class="a" style="left:408.9px;top:515px;width:27.45px;height:7.2px;background:#e2efda;"></div>
<div class="a" style="left:408.9px;top:522.2px;width:27.45px;height:7.2px;background:#fce4d6;"></div>
<div class="a" style="left:408.9px;top:529.4px;width:27.45px;height:7.2px;background:#a9d08e;"></div>
<div class="a" style="left:242px;top:273.9px;width:194.85px;height:1px;background:#8c8c7c;"></div>
<div class="a" style="left:242px;top:286.8px;width:194.85px;height:1px;background:#a8a290;"></div>
<div class="a" style="left:242px;top:293.85px;width:194.85px;height:0.9px;background:#6a6a6a;"></div>
<div class="a" style="left:353.1px;top:274px;width:1px;height:13.3px;background:#6e6a5e;"></div>
<div class="a" style="left:269.85px;top:294.3px;width:0.9px;height:7.1px;background:#6a6a6a;"></div>
<div class="a" style="left:297.85px;top:294.3px;width:0.9px;height:7.1px;background:#6a6a6a;"></div>
<div class="a" style="left:324.95px;top:294.3px;width:0.9px;height:7.1px;background:#6a6a6a;"></div>
<div class="a" style="left:353.15px;top:294.3px;width:0.9px;height:7.1px;background:#6a6a6a;"></div>
<div class="a" style="left:380.85px;top:294.3px;width:0.9px;height:7.1px;background:#6a6a6a;"></div>
<div class="a" style="left:408.45px;top:294.3px;width:0.9px;height:7.1px;background:#6a6a6a;"></div>
<div class="a" style="left:242px;top:300.9px;width:194.85px;height:1px;background:#3a3a3a;"></div>
<div class="a" style="left:242px;top:411.5px;width:194.85px;height:1px;background:#5e5e5e;"></div>
<div class="a" style="left:269.85px;top:301.4px;width:0.9px;height:110.6px;background:#2b2b2b;"></div>
<div class="a" style="left:297.85px;top:301.4px;width:0.9px;height:110.6px;background:#2b2b2b;"></div>
<div class="a" style="left:324.95px;top:301.4px;width:0.9px;height:110.6px;background:#2b2b2b;"></div>
<div class="a" style="left:353.15px;top:301.4px;width:0.9px;height:110.6px;background:#2b2b2b;"></div>
<div class="a" style="left:380.85px;top:301.4px;width:0.9px;height:110.6px;background:#2b2b2b;"></div>
<div class="a" style="left:408.45px;top:301.4px;width:0.9px;height:110.6px;background:#2b2b2b;"></div>
<div class="a" style="left:242px;top:321.64px;width:194.85px;height:1px;background:#5a5a5a;"></div>
<div class="a" style="left:242px;top:356.2px;width:194.85px;height:1px;background:#5a5a5a;"></div>
<div class="a" style="left:242px;top:383.85px;width:194.85px;height:1px;background:#5a5a5a;"></div>
<div class="a" style="left:242px;top:419.3px;width:194.85px;height:1px;background:#3a3a3a;"></div>
<div class="a" style="left:242px;top:439.8px;width:194.85px;height:1px;background:#5e5e5e;"></div>
<div class="a" style="left:269.85px;top:419.8px;width:0.9px;height:20.5px;background:#2b2b2b;"></div>
<div class="a" style="left:297.85px;top:419.8px;width:0.9px;height:20.5px;background:#2b2b2b;"></div>
<div class="a" style="left:324.95px;top:419.8px;width:0.9px;height:20.5px;background:#2b2b2b;"></div>
<div class="a" style="left:353.15px;top:419.8px;width:0.9px;height:20.5px;background:#2b2b2b;"></div>
<div class="a" style="left:380.85px;top:419.8px;width:0.9px;height:20.5px;background:#2b2b2b;"></div>
<div class="a" style="left:408.45px;top:419.8px;width:0.9px;height:20.5px;background:#2b2b2b;"></div>
<div class="a" style="left:242px;top:446.7px;width:194.85px;height:1px;background:#3a3a3a;"></div>
<div class="a" style="left:242px;top:480.5px;width:194.85px;height:1px;background:#5e5e5e;"></div>
<div class="a" style="left:269.85px;top:447.2px;width:0.9px;height:33.8px;background:#2b2b2b;"></div>
<div class="a" style="left:297.85px;top:447.2px;width:0.9px;height:33.8px;background:#2b2b2b;"></div>
<div class="a" style="left:324.95px;top:447.2px;width:0.9px;height:33.8px;background:#2b2b2b;"></div>
<div class="a" style="left:353.15px;top:447.2px;width:0.9px;height:33.8px;background:#2b2b2b;"></div>
<div class="a" style="left:380.85px;top:447.2px;width:0.9px;height:33.8px;background:#2b2b2b;"></div>
<div class="a" style="left:408.45px;top:447.2px;width:0.9px;height:33.8px;background:#2b2b2b;"></div>
<div class="a" style="left:242px;top:487.5px;width:194.85px;height:1px;background:#3a3a3a;"></div>
<div class="a" style="left:242px;top:507.9px;width:194.85px;height:1px;background:#5e5e5e;"></div>
<div class="a" style="left:269.85px;top:488px;width:0.9px;height:20.4px;background:#2b2b2b;"></div>
<div class="a" style="left:297.85px;top:488px;width:0.9px;height:20.4px;background:#2b2b2b;"></div>
<div class="a" style="left:324.95px;top:488px;width:0.9px;height:20.4px;background:#2b2b2b;"></div>
<div class="a" style="left:353.15px;top:488px;width:0.9px;height:20.4px;background:#2b2b2b;"></div>
<div class="a" style="left:380.85px;top:488px;width:0.9px;height:20.4px;background:#2b2b2b;"></div>
<div class="a" style="left:408.45px;top:488px;width:0.9px;height:20.4px;background:#2b2b2b;"></div>
<div class="a" style="left:242px;top:514.5px;width:194.85px;height:1px;background:#3a3a3a;"></div>
<div class="a" style="left:242px;top:536.1px;width:194.85px;height:1px;background:#5e5e5e;"></div>
<div class="a" style="left:269.85px;top:515px;width:0.9px;height:21.6px;background:#2b2b2b;"></div>
<div class="a" style="left:297.85px;top:515px;width:0.9px;height:21.6px;background:#2b2b2b;"></div>
<div class="a" style="left:324.95px;top:515px;width:0.9px;height:21.6px;background:#2b2b2b;"></div>
<div class="a" style="left:353.15px;top:515px;width:0.9px;height:21.6px;background:#2b2b2b;"></div>
<div class="a" style="left:380.85px;top:515px;width:0.9px;height:21.6px;background:#2b2b2b;"></div>
<div class="a" style="left:408.45px;top:515px;width:0.9px;height:21.6px;background:#2b2b2b;"></div>
<div class="a" style="left:242px;top:274px;width:1px;height:138px;background:#1a1a1a;"></div>
<div class="a" style="left:435.85px;top:274px;width:1px;height:138px;background:#3a3a3a;"></div>
<div class="a" style="left:242px;top:419.8px;width:1px;height:20.5px;background:#1a1a1a;"></div>
<div class="a" style="left:435.85px;top:419.8px;width:1px;height:20.5px;background:#3a3a3a;"></div>
<div class="a" style="left:242px;top:447.2px;width:1px;height:33.8px;background:#1a1a1a;"></div>
<div class="a" style="left:435.85px;top:447.2px;width:1px;height:33.8px;background:#3a3a3a;"></div>
<div class="a" style="left:242px;top:488px;width:1px;height:20.4px;background:#1a1a1a;"></div>
<div class="a" style="left:435.85px;top:488px;width:1px;height:20.4px;background:#3a3a3a;"></div>
<div class="a" style="left:242px;top:515px;width:1px;height:21.6px;background:#1a1a1a;"></div>
<div class="a" style="left:435.85px;top:515px;width:1px;height:21.6px;background:#3a3a3a;"></div>
<div class="a" style="left:183px;top:139.3px;width:0.8px;height:7px;background:#555;"></div>
<div class="a" style="left:353px;top:167.3px;width:0.8px;height:6.8px;background:#555;"></div>
<div class="a" style="left:353px;top:208.6px;width:0.8px;height:7.4px;background:#555;"></div>
<div class="a" style="left:353px;top:236.6px;width:0.8px;height:7.6px;background:#555;"></div>
<div class="a" style="left:182.6px;top:440.3px;width:0.8px;height:6.9px;background:#888;"></div>
<div class="t" style="left:1.1px;top:569.9px;font-size:23px;line-height:23px;font-weight:bold;color:#000;">b</div>
<div class="t" style="top:583.5px;font-size:12px;line-height:12px;color:#595959;font-weight:normal;font-style:normal;left:343.5px;width:0;display:flex;justify-content:center;letter-spacing:0.25px;">M1-profile</div>
<div class="a" style="left:38.8px;top:731.2px;width:565px;height:1px;background:#d9d9d9;"></div>
<div class="t" style="top:728.6px;font-size:7.6px;line-height:7.6px;color:#595959;font-weight:normal;font-style:normal;right:653.8px;">0</div>
<div class="a" style="left:38.8px;top:719.04px;width:565px;height:1px;background:#d9d9d9;"></div>
<div class="t" style="top:716.44px;font-size:7.6px;line-height:7.6px;color:#595959;font-weight:normal;font-style:normal;right:653.8px;">0,1</div>
<div class="a" style="left:38.8px;top:706.88px;width:565px;height:1px;background:#d9d9d9;"></div>
<div class="t" style="top:704.28px;font-size:7.6px;line-height:7.6px;color:#595959;font-weight:normal;font-style:normal;right:653.8px;">0,2</div>
<div class="a" style="left:38.8px;top:694.72px;width:565px;height:1px;background:#d9d9d9;"></div>
<div class="t" style="top:692.12px;font-size:7.6px;line-height:7.6px;color:#595959;font-weight:normal;font-style:normal;right:653.8px;">0,3</div>
<div class="a" style="left:38.8px;top:682.56px;width:565px;height:1px;background:#d9d9d9;"></div>
<div class="t" style="top:679.96px;font-size:7.6px;line-height:7.6px;color:#595959;font-weight:normal;font-style:normal;right:653.8px;">0,4</div>
<div class="a" style="left:38.8px;top:670.4px;width:565px;height:1px;background:#d9d9d9;"></div>
<div class="t" style="top:667.8px;font-size:7.6px;line-height:7.6px;color:#595959;font-weight:normal;font-style:normal;right:653.8px;">0,5</div>
<div class="a" style="left:38.8px;top:658.24px;width:565px;height:1px;background:#d9d9d9;"></div>
<div class="t" style="top:655.64px;font-size:7.6px;line-height:7.6px;color:#595959;font-weight:normal;font-style:normal;right:653.8px;">0,6</div>
<div class="a" style="left:38.8px;top:646.08px;width:565px;height:1px;background:#d9d9d9;"></div>
<div class="t" style="top:643.48px;font-size:7.6px;line-height:7.6px;color:#595959;font-weight:normal;font-style:normal;right:653.8px;">0,7</div>
<div class="a" style="left:38.8px;top:633.92px;width:565px;height:1px;background:#d9d9d9;"></div>
<div class="t" style="top:631.32px;font-size:7.6px;line-height:7.6px;color:#595959;font-weight:normal;font-style:normal;right:653.8px;">0,8</div>
<div class="a" style="left:38.8px;top:621.76px;width:565px;height:1px;background:#d9d9d9;"></div>
<div class="t" style="top:619.16px;font-size:7.6px;line-height:7.6px;color:#595959;font-weight:normal;font-style:normal;right:653.8px;">0,9</div>
<div class="a" style="left:38.8px;top:609.6px;width:565px;height:1px;background:#d9d9d9;"></div>
<div class="t" style="top:607px;font-size:7.6px;line-height:7.6px;color:#595959;font-weight:normal;font-style:normal;right:653.8px;">1</div>
<div class="t" style="left:12.2px;top:676.2px;width:0;height:0;"><div style="position:absolute;left:0;top:0;transform:translate(-50%,-50%) rotate(-90deg);font-size:11.1px;line-height:11.1px;color:#595959;white-space:nowrap;">Ratio Positive Corr genes</div></div>
<div class="a" style="left:39.75px;top:681.03px;width:3.5px;height:50.67px;background:#000000;"></div>
<div class="a" style="left:44.3px;top:691.17px;width:3.5px;height:40.53px;background:#00b050;"></div>
<div class="a" style="left:48.85px;top:711.43px;width:3.5px;height:20.27px;background:#ff0000;"></div>
<div class="a" style="left:58.6px;top:660.77px;width:3.5px;height:70.93px;background:#000000;"></div>
<div class="a" style="left:63.15px;top:681.03px;width:3.5px;height:50.67px;background:#00b050;"></div>
<div class="a" style="left:67.7px;top:681.03px;width:3.5px;height:50.67px;background:#ff0000;"></div>
<div class="a" style="left:77.45px;top:721.57px;width:3.5px;height:10.13px;background:#000000;"></div>
<div class="a" style="left:82px;top:721.57px;width:3.5px;height:10.13px;background:#00b050;"></div>
<div class="a" style="left:86.55px;top:721.57px;width:3.5px;height:10.13px;background:#ff0000;"></div>
<div class="a" style="left:115.15px;top:681.03px;width:3.5px;height:50.67px;background:#000000;"></div>
<div class="a" style="left:119.7px;top:691.17px;width:3.5px;height:40.53px;background:#00b050;"></div>
<div class="a" style="left:124.25px;top:711.43px;width:3.5px;height:20.27px;background:#ff0000;"></div>
<div class="a" style="left:134px;top:711.43px;width:3.5px;height:20.27px;background:#000000;"></div>
<div class="a" style="left:138.55px;top:711.43px;width:3.5px;height:20.27px;background:#00b050;"></div>
<div class="a" style="left:143.1px;top:721.57px;width:3.5px;height:10.13px;background:#ff0000;"></div>
<div class="a" style="left:152.85px;top:670.9px;width:3.5px;height:60.8px;background:#000000;"></div>
<div class="a" style="left:157.4px;top:691.17px;width:3.5px;height:40.53px;background:#00b050;"></div>
<div class="a" style="left:161.95px;top:670.9px;width:3.5px;height:60.8px;background:#ff0000;"></div>
<div class="a" style="left:171.7px;top:701.3px;width:3.5px;height:30.4px;background:#000000;"></div>
<div class="a" style="left:176.25px;top:721.57px;width:3.5px;height:10.13px;background:#00b050;"></div>
<div class="a" style="left:180.8px;top:721.57px;width:3.5px;height:10.13px;background:#ff0000;"></div>
<div class="a" style="left:185.35px;top:721.57px;width:3.5px;height:10.13px;background:#4472c4;"></div>
<div class="a" style="left:190.55px;top:670.9px;width:3.5px;height:60.8px;background:#000000;"></div>
<div class="a" style="left:195.1px;top:701.3px;width:3.5px;height:30.4px;background:#00b050;"></div>
<div class="a" style="left:199.65px;top:721.57px;width:3.5px;height:10.13px;background:#ff0000;"></div>
<div class="a" style="left:232.8px;top:691.17px;width:3.5px;height:40.53px;background:#00b050;"></div>
<div class="a" style="left:247.1px;top:721.57px;width:3.5px;height:10.13px;background:#000000;"></div>
<div class="a" style="left:251.65px;top:721.57px;width:3.5px;height:10.13px;background:#00b050;"></div>
<div class="a" style="left:260.75px;top:721.57px;width:3.5px;height:10.13px;background:#4472c4;"></div>
<div class="a" style="left:270.5px;top:701.3px;width:3.5px;height:30.4px;background:#00b050;"></div>
<div class="a" style="left:275.05px;top:691.17px;width:3.5px;height:40.53px;background:#ff0000;"></div>
<div class="a" style="left:284.8px;top:721.57px;width:3.5px;height:10.13px;background:#000000;"></div>
<div class="a" style="left:289.35px;top:711.43px;width:3.5px;height:20.27px;background:#00b050;"></div>
<div class="a" style="left:322.5px;top:701.3px;width:3.5px;height:30.4px;background:#000000;"></div>
<div class="a" style="left:327.05px;top:721.57px;width:3.5px;height:10.13px;background:#00b050;"></div>
<div class="a" style="left:331.6px;top:681.03px;width:3.5px;height:50.67px;background:#ff0000;"></div>
<div class="a" style="left:336.15px;top:721.57px;width:3.5px;height:10.13px;background:#4472c4;"></div>
<div class="a" style="left:341.35px;top:711.43px;width:3.5px;height:20.27px;background:#000000;"></div>
<div class="a" style="left:350.45px;top:691.17px;width:3.5px;height:40.53px;background:#ff0000;"></div>
<div class="a" style="left:355px;top:721.57px;width:3.5px;height:10.13px;background:#4472c4;"></div>
<div class="a" style="left:360.2px;top:721.57px;width:3.5px;height:10.13px;background:#000000;"></div>
<div class="a" style="left:364.75px;top:711.43px;width:3.5px;height:20.27px;background:#00b050;"></div>
<div class="a" style="left:369.3px;top:721.57px;width:3.5px;height:10.13px;background:#ff0000;"></div>
<div class="a" style="left:373.85px;top:711.43px;width:3.5px;height:20.27px;background:#4472c4;"></div>
<div class="a" style="left:379.05px;top:681.03px;width:3.5px;height:50.67px;background:#000000;"></div>
<div class="a" style="left:383.6px;top:691.17px;width:3.5px;height:40.53px;background:#00b050;"></div>
<div class="a" style="left:388.15px;top:681.03px;width:3.5px;height:50.67px;background:#ff0000;"></div>
<div class="a" style="left:392.7px;top:721.57px;width:3.5px;height:10.13px;background:#4472c4;"></div>
<div class="a" style="left:416.75px;top:640.5px;width:3.5px;height:91.2px;background:#000000;"></div>
<div class="a" style="left:421.3px;top:660.77px;width:3.5px;height:70.93px;background:#00b050;"></div>
<div class="a" style="left:425.85px;top:711.43px;width:3.5px;height:20.27px;background:#ff0000;"></div>
<div class="a" style="left:430.4px;top:721.57px;width:3.5px;height:10.13px;background:#4472c4;"></div>
<div class="a" style="left:435.6px;top:691.17px;width:3.5px;height:40.53px;background:#000000;"></div>
<div class="a" style="left:440.15px;top:691.17px;width:3.5px;height:40.53px;background:#00b050;"></div>
<div class="a" style="left:454.45px;top:701.3px;width:3.5px;height:30.4px;background:#000000;"></div>
<div class="a" style="left:459px;top:711.43px;width:3.5px;height:20.27px;background:#00b050;"></div>
<div class="a" style="left:463.55px;top:670.9px;width:3.5px;height:60.8px;background:#ff0000;"></div>
<div class="a" style="left:468.1px;top:711.43px;width:3.5px;height:20.27px;background:#4472c4;"></div>
<div class="a" style="left:492.15px;top:709.59px;width:3.5px;height:22.11px;background:#000000;"></div>
<div class="a" style="left:496.7px;top:665.37px;width:3.5px;height:66.33px;background:#00b050;"></div>
<div class="a" style="left:501.25px;top:687.48px;width:3.5px;height:44.22px;background:#ff0000;"></div>
<div class="a" style="left:505.8px;top:709.59px;width:3.5px;height:22.11px;background:#4472c4;"></div>
<div class="a" style="left:511px;top:665.37px;width:3.5px;height:66.33px;background:#000000;"></div>
<div class="a" style="left:515.55px;top:654.32px;width:3.5px;height:77.38px;background:#00b050;"></div>
<div class="a" style="left:520.1px;top:687.48px;width:3.5px;height:44.22px;background:#ff0000;"></div>
<div class="a" style="left:524.65px;top:720.65px;width:3.5px;height:11.05px;background:#4472c4;"></div>
<div class="a" style="left:529.85px;top:654.32px;width:3.5px;height:77.38px;background:#000000;"></div>
<div class="a" style="left:534.4px;top:621.15px;width:3.5px;height:110.55px;background:#00b050;"></div>
<div class="a" style="left:538.95px;top:676.43px;width:3.5px;height:55.27px;background:#ff0000;"></div>
<div class="a" style="left:543.5px;top:698.54px;width:3.5px;height:33.16px;background:#4472c4;"></div>
<div class="a" style="left:567.55px;top:665.37px;width:3.5px;height:66.33px;background:#000000;"></div>
<div class="a" style="left:572.1px;top:632.21px;width:3.5px;height:99.49px;background:#00b050;"></div>
<div class="a" style="left:576.65px;top:654.32px;width:3.5px;height:77.38px;background:#ff0000;"></div>
<div class="a" style="left:581.2px;top:687.48px;width:3.5px;height:44.22px;background:#4472c4;"></div>
<div class="a" style="left:586.4px;top:665.37px;width:3.5px;height:66.33px;background:#000000;"></div>
<div class="a" style="left:590.95px;top:665.37px;width:3.5px;height:66.33px;background:#00b050;"></div>
<div class="a" style="left:595.5px;top:698.54px;width:3.5px;height:33.16px;background:#ff0000;"></div>
<div class="a" style="left:600.05px;top:720.65px;width:3.5px;height:11.05px;background:#4472c4;"></div>
<div class="t" style="right:636.57px;top:736.3px;font-size:9.6px;line-height:9.6px;color:#595959;transform-origin:100% 50%;transform:rotate(-45deg);">WNT</div>
<div class="t" style="right:617.72px;top:736.3px;font-size:9.6px;line-height:9.6px;color:#595959;transform-origin:100% 50%;transform:rotate(-45deg);">WNTa</div>
<div class="t" style="right:598.88px;top:736.3px;font-size:9.6px;line-height:9.6px;color:#595959;transform-origin:100% 50%;transform:rotate(-45deg);">WNTb</div>
<div class="t" style="right:561.17px;top:736.3px;font-size:9.6px;line-height:9.6px;color:#595959;transform-origin:100% 50%;transform:rotate(-45deg);">SHH</div>
<div class="t" style="right:542.32px;top:736.3px;font-size:9.6px;line-height:9.6px;color:#595959;transform-origin:100% 50%;transform:rotate(-45deg);">SHHa</div>
<div class="t" style="right:523.47px;top:736.3px;font-size:9.6px;line-height:9.6px;color:#595959;transform-origin:100% 50%;transform:rotate(-45deg);">SHHb</div>
<div class="t" style="right:504.62px;top:736.3px;font-size:9.6px;line-height:9.6px;color:#595959;transform-origin:100% 50%;transform:rotate(-45deg);">SHHg</div>
<div class="t" style="right:485.77px;top:736.3px;font-size:9.6px;line-height:9.6px;color:#595959;transform-origin:100% 50%;transform:rotate(-45deg);">SHHd</div>
<div class="t" style="right:448.07px;top:736.3px;font-size:9.6px;line-height:9.6px;color:#595959;transform-origin:100% 50%;transform:rotate(-45deg);">Group3</div>
<div class="t" style="right:429.23px;top:736.3px;font-size:9.6px;line-height:9.6px;color:#595959;transform-origin:100% 50%;transform:rotate(-45deg);">Group3a</div>
<div class="t" style="right:410.38px;top:736.3px;font-size:9.6px;line-height:9.6px;color:#595959;transform-origin:100% 50%;transform:rotate(-45deg);">Group3b</div>
<div class="t" style="right:391.52px;top:736.3px;font-size:9.6px;line-height:9.6px;color:#595959;transform-origin:100% 50%;transform:rotate(-45deg);">Group3g</div>
<div class="t" style="right:353.82px;top:736.3px;font-size:9.6px;line-height:9.6px;color:#595959;transform-origin:100% 50%;transform:rotate(-45deg);">Group4</div>
<div class="t" style="right:334.97px;top:736.3px;font-size:9.6px;line-height:9.6px;color:#595959;transform-origin:100% 50%;transform:rotate(-45deg);">Group4a</div>
<div class="t" style="right:316.12px;top:736.3px;font-size:9.6px;line-height:9.6px;color:#595959;transform-origin:100% 50%;transform:rotate(-45deg);">Group4b</div>
<div class="t" style="right:297.27px;top:736.3px;font-size:9.6px;line-height:9.6px;color:#595959;transform-origin:100% 50%;transform:rotate(-45deg);">Group4g</div>
<div class="t" style="right:259.57px;top:736.3px;font-size:9.6px;line-height:9.6px;color:#595959;transform-origin:100% 50%;transform:rotate(-45deg);">SHH</div>
<div class="t" style="right:240.72px;top:736.3px;font-size:9.6px;line-height:9.6px;color:#595959;transform-origin:100% 50%;transform:rotate(-45deg);">Group3</div>
<div class="t" style="right:221.87px;top:736.3px;font-size:9.6px;line-height:9.6px;color:#595959;transform-origin:100% 50%;transform:rotate(-45deg);">Group4</div>
<div class="t" style="right:184.17px;top:736.3px;font-size:9.6px;line-height:9.6px;color:#595959;transform-origin:100% 50%;transform:rotate(-45deg);">GBM C</div>
<div class="t" style="right:165.32px;top:736.3px;font-size:9.6px;line-height:9.6px;color:#595959;transform-origin:100% 50%;transform:rotate(-45deg);">GBM M</div>
<div class="t" style="right:146.47px;top:736.3px;font-size:9.6px;line-height:9.6px;color:#595959;transform-origin:100% 50%;transform:rotate(-45deg);">GBM PN</div>
<div class="t" style="right:108.78px;top:736.3px;font-size:9.6px;line-height:9.6px;color:#595959;transform-origin:100% 50%;transform:rotate(-45deg);">IDHwt</div>
<div class="t" style="right:89.92px;top:736.3px;font-size:9.6px;line-height:9.6px;color:#595959;transform-origin:100% 50%;transform:rotate(-45deg);">IDHmut</div>
<div class="a" style="left:619px;top:658.5px;width:5.8px;height:5.6px;background:#000000;"></div>
<div class="t" style="top:655.7px;font-size:10.8px;line-height:10.8px;color:#595959;font-weight:normal;font-style:normal;left:627.3px;">SIGLEC-10</div>
<div class="a" style="left:619px;top:676.5px;width:5.8px;height:5.6px;background:#00b050;"></div>
<div class="t" style="top:673.7px;font-size:10.8px;line-height:10.8px;color:#595959;font-weight:normal;font-style:normal;left:627.3px;">TREM2</div>
<div class="a" style="left:619px;top:694.5px;width:5.8px;height:5.6px;background:#ff0000;"></div>
<div class="t" style="top:691.7px;font-size:10.8px;line-height:10.8px;color:#595959;font-weight:normal;font-style:normal;left:627.3px;">CD163</div>
<div class="a" style="left:619px;top:712.5px;width:5.8px;height:5.6px;background:#4472c4;"></div>
<div class="t" style="top:709.7px;font-size:10.8px;line-height:10.8px;color:#595959;font-weight:normal;font-style:normal;left:627.3px;">ITGA4</div>
<div class="a" style="left:39.1px;top:776.15px;width:342px;height:1.1px;background:#1a1a1a;"></div>
<svg class="a" style="left:36.1px;top:772.7px;" width="8" height="8" viewBox="0 0 8 8"><polygon points="0,4 7.4,0.4 7.4,7.6" fill="#111"/></svg>
<svg class="a" style="left:376.1px;top:772.7px;" width="8" height="8" viewBox="0 0 8 8"><polygon points="8,4 0.6,0.4 0.6,7.6" fill="#111"/></svg>
<div class="a" style="left:410px;top:776.15px;width:62.3px;height:1.1px;background:#1a1a1a;"></div>
<svg class="a" style="left:407px;top:772.7px;" width="8" height="8" viewBox="0 0 8 8"><polygon points="0,4 7.4,0.4 7.4,7.6" fill="#111"/></svg>
<svg class="a" style="left:467.3px;top:772.7px;" width="8" height="8" viewBox="0 0 8 8"><polygon points="8,4 0.6,0.4 0.6,7.6" fill="#111"/></svg>
<div class="a" style="left:500.1px;top:776.15px;width:100.2px;height:1.1px;background:#1a1a1a;"></div>
<svg class="a" style="left:497.1px;top:772.7px;" width="8" height="8" viewBox="0 0 8 8"><polygon points="0,4 7.4,0.4 7.4,7.6" fill="#111"/></svg>
<svg class="a" style="left:595.3px;top:772.7px;" width="8" height="8" viewBox="0 0 8 8"><polygon points="8,4 0.6,0.4 0.6,7.6" fill="#111"/></svg>
<div class="t" style="top:784.3px;font-size:12px;line-height:12px;color:#111;font-weight:normal;font-style:normal;left:218.7px;width:0;display:flex;justify-content:center;">Cavalli MB</div>
<div class="t" style="top:784.3px;font-size:12px;line-height:12px;color:#111;font-weight:normal;font-style:normal;left:440.9px;width:0;display:flex;justify-content:center;">Northcott_2012 MB</div>
<div class="t" style="top:784.3px;font-size:12px;line-height:12px;color:#111;font-weight:normal;font-style:normal;left:549.5px;width:0;display:flex;justify-content:center;">TCGA_GBM</div>
<div class="t" style="top:813.5px;font-size:12px;line-height:12px;color:#595959;font-weight:normal;font-style:normal;left:343.5px;width:0;display:flex;justify-content:center;letter-spacing:0.25px;">M2-profile</div>
<div class="a" style="left:38.8px;top:961.2px;width:565px;height:1px;background:#d9d9d9;"></div>
<div class="t" style="top:958.6px;font-size:7.6px;line-height:7.6px;color:#595959;font-weight:normal;font-style:normal;right:653.8px;">0</div>
<div class="a" style="left:38.8px;top:949.04px;width:565px;height:1px;background:#d9d9d9;"></div>
<div class="t" style="top:946.44px;font-size:7.6px;line-height:7.6px;color:#595959;font-weight:normal;font-style:normal;right:653.8px;">0,1</div>
<div class="a" style="left:38.8px;top:936.88px;width:565px;height:1px;background:#d9d9d9;"></div>
<div class="t" style="top:934.28px;font-size:7.6px;line-height:7.6px;color:#595959;font-weight:normal;font-style:normal;right:653.8px;">0,2</div>
<div class="a" style="left:38.8px;top:924.72px;width:565px;height:1px;background:#d9d9d9;"></div>
<div class="t" style="top:922.12px;font-size:7.6px;line-height:7.6px;color:#595959;font-weight:normal;font-style:normal;right:653.8px;">0,3</div>
<div class="a" style="left:38.8px;top:912.56px;width:565px;height:1px;background:#d9d9d9;"></div>
<div class="t" style="top:909.96px;font-size:7.6px;line-height:7.6px;color:#595959;font-weight:normal;font-style:normal;right:653.8px;">0,4</div>
<div class="a" style="left:38.8px;top:900.4px;width:565px;height:1px;background:#d9d9d9;"></div>
<div class="t" style="top:897.8px;font-size:7.6px;line-height:7.6px;color:#595959;font-weight:normal;font-style:normal;right:653.8px;">0,5</div>
<div class="a" style="left:38.8px;top:888.24px;width:565px;height:1px;background:#d9d9d9;"></div>
<div class="t" style="top:885.64px;font-size:7.6px;line-height:7.6px;color:#595959;font-weight:normal;font-style:normal;right:653.8px;">0,6</div>
<div class="a" style="left:38.8px;top:876.08px;width:565px;height:1px;background:#d9d9d9;"></div>
<div class="t" style="top:873.48px;font-size:7.6px;line-height:7.6px;color:#595959;font-weight:normal;font-style:normal;right:653.8px;">0,7</div>
<div class="a" style="left:38.8px;top:863.92px;width:565px;height:1px;background:#d9d9d9;"></div>
<div class="t" style="top:861.32px;font-size:7.6px;line-height:7.6px;color:#595959;font-weight:normal;font-style:normal;right:653.8px;">0,8</div>
<div class="a" style="left:38.8px;top:851.76px;width:565px;height:1px;background:#d9d9d9;"></div>
<div class="t" style="top:849.16px;font-size:7.6px;line-height:7.6px;color:#595959;font-weight:normal;font-style:normal;right:653.8px;">0,9</div>
<div class="a" style="left:38.8px;top:839.6px;width:565px;height:1px;background:#d9d9d9;"></div>
<div class="t" style="top:837px;font-size:7.6px;line-height:7.6px;color:#595959;font-weight:normal;font-style:normal;right:653.8px;">1</div>
<div class="t" style="left:12.2px;top:906.2px;width:0;height:0;"><div style="position:absolute;left:0;top:0;transform:translate(-50%,-50%) rotate(-90deg);font-size:11.1px;line-height:11.1px;color:#595959;white-space:nowrap;">Ratio Positive Corr genes</div></div>
<div class="a" style="left:39.75px;top:900.9px;width:3.5px;height:60.8px;background:#000000;"></div>
<div class="a" style="left:44.3px;top:884.36px;width:3.5px;height:77.34px;background:#00b050;"></div>
<div class="a" style="left:48.85px;top:880.59px;width:3.5px;height:81.11px;background:#ff0000;"></div>
<div class="a" style="left:58.6px;top:900.9px;width:3.5px;height:60.8px;background:#000000;"></div>
<div class="a" style="left:63.15px;top:884.36px;width:3.5px;height:77.34px;background:#00b050;"></div>
<div class="a" style="left:67.7px;top:880.59px;width:3.5px;height:81.11px;background:#ff0000;"></div>
<div class="a" style="left:77.45px;top:910.99px;width:3.5px;height:50.71px;background:#000000;"></div>
<div class="a" style="left:82px;top:917.44px;width:3.5px;height:44.26px;background:#00b050;"></div>
<div class="a" style="left:86.55px;top:921.21px;width:3.5px;height:40.49px;background:#ff0000;"></div>
<div class="a" style="left:115.15px;top:910.99px;width:3.5px;height:50.71px;background:#000000;"></div>
<div class="a" style="left:119.7px;top:895.43px;width:3.5px;height:66.27px;background:#00b050;"></div>
<div class="a" style="left:124.25px;top:880.59px;width:3.5px;height:81.11px;background:#ff0000;"></div>
<div class="a" style="left:128.8px;top:951.61px;width:3.5px;height:10.09px;background:#4472c4;"></div>
<div class="a" style="left:138.55px;top:906.37px;width:3.5px;height:55.33px;background:#00b050;"></div>
<div class="a" style="left:143.1px;top:890.81px;width:3.5px;height:70.89px;background:#ff0000;"></div>
<div class="a" style="left:152.85px;top:910.99px;width:3.5px;height:50.71px;background:#000000;"></div>
<div class="a" style="left:157.4px;top:895.43px;width:3.5px;height:66.27px;background:#00b050;"></div>
<div class="a" style="left:161.95px;top:880.59px;width:3.5px;height:81.11px;background:#ff0000;"></div>
<div class="a" style="left:171.7px;top:910.99px;width:3.5px;height:50.71px;background:#000000;"></div>
<div class="a" style="left:176.25px;top:917.44px;width:3.5px;height:44.26px;background:#00b050;"></div>
<div class="a" style="left:180.8px;top:921.21px;width:3.5px;height:40.49px;background:#ff0000;"></div>
<div class="a" style="left:185.35px;top:941.39px;width:3.5px;height:20.31px;background:#4472c4;"></div>
<div class="a" style="left:190.55px;top:900.9px;width:3.5px;height:60.8px;background:#000000;"></div>
<div class="a" style="left:195.1px;top:895.43px;width:3.5px;height:66.27px;background:#00b050;"></div>
<div class="a" style="left:199.65px;top:941.39px;width:3.5px;height:20.31px;background:#ff0000;"></div>
<div class="a" style="left:228.25px;top:921.21px;width:3.5px;height:40.49px;background:#000000;"></div>
<div class="a" style="left:232.8px;top:895.43px;width:3.5px;height:66.27px;background:#00b050;"></div>
<div class="a" style="left:237.35px;top:900.9px;width:3.5px;height:60.8px;background:#ff0000;"></div>
<div class="a" style="left:241.9px;top:951.61px;width:3.5px;height:10.09px;background:#4472c4;"></div>
<div class="a" style="left:247.1px;top:951.61px;width:3.5px;height:10.09px;background:#000000;"></div>
<div class="a" style="left:251.65px;top:895.43px;width:3.5px;height:66.27px;background:#00b050;"></div>
<div class="a" style="left:256.2px;top:931.3px;width:3.5px;height:30.4px;background:#ff0000;"></div>
<div class="a" style="left:265.95px;top:910.99px;width:3.5px;height:50.71px;background:#000000;"></div>
<div class="a" style="left:270.5px;top:895.43px;width:3.5px;height:66.27px;background:#00b050;"></div>
<div class="a" style="left:275.05px;top:910.99px;width:3.5px;height:50.71px;background:#ff0000;"></div>
<div class="a" style="left:279.6px;top:951.61px;width:3.5px;height:10.09px;background:#4472c4;"></div>
<div class="a" style="left:284.8px;top:951.61px;width:3.5px;height:10.09px;background:#000000;"></div>
<div class="a" style="left:289.35px;top:917.44px;width:3.5px;height:44.26px;background:#00b050;"></div>
<div class="a" style="left:293.9px;top:941.39px;width:3.5px;height:20.31px;background:#ff0000;"></div>
<div class="a" style="left:322.5px;top:890.81px;width:3.5px;height:70.89px;background:#000000;"></div>
<div class="a" style="left:327.05px;top:895.43px;width:3.5px;height:66.27px;background:#00b050;"></div>
<div class="a" style="left:331.6px;top:910.99px;width:3.5px;height:50.71px;background:#ff0000;"></div>
<div class="a" style="left:336.15px;top:951.61px;width:3.5px;height:10.09px;background:#4472c4;"></div>
<div class="a" style="left:341.35px;top:910.99px;width:3.5px;height:50.71px;background:#000000;"></div>
<div class="a" style="left:345.9px;top:895.43px;width:3.5px;height:66.27px;background:#00b050;"></div>
<div class="a" style="left:350.45px;top:910.99px;width:3.5px;height:50.71px;background:#ff0000;"></div>
<div class="a" style="left:355px;top:951.61px;width:3.5px;height:10.09px;background:#4472c4;"></div>
<div class="a" style="left:360.2px;top:900.9px;width:3.5px;height:60.8px;background:#000000;"></div>
<div class="a" style="left:364.75px;top:928.5px;width:3.5px;height:33.2px;background:#00b050;"></div>
<div class="a" style="left:369.3px;top:921.21px;width:3.5px;height:40.49px;background:#ff0000;"></div>
<div class="a" style="left:373.85px;top:951.61px;width:3.5px;height:10.09px;background:#4472c4;"></div>
<div class="a" style="left:379.05px;top:890.81px;width:3.5px;height:70.89px;background:#000000;"></div>
<div class="a" style="left:383.6px;top:895.43px;width:3.5px;height:66.27px;background:#00b050;"></div>
<div class="a" style="left:388.15px;top:910.99px;width:3.5px;height:50.71px;background:#ff0000;"></div>
<div class="a" style="left:416.75px;top:910.99px;width:3.5px;height:50.71px;background:#000000;"></div>
<div class="a" style="left:421.3px;top:884.36px;width:3.5px;height:77.34px;background:#00b050;"></div>
<div class="a" style="left:425.85px;top:880.59px;width:3.5px;height:81.11px;background:#ff0000;"></div>
<div class="a" style="left:435.6px;top:900.9px;width:3.5px;height:60.8px;background:#000000;"></div>
<div class="a" style="left:440.15px;top:906.37px;width:3.5px;height:55.33px;background:#00b050;"></div>
<div class="a" style="left:444.7px;top:900.9px;width:3.5px;height:60.8px;background:#ff0000;"></div>
<div class="a" style="left:449.25px;top:951.61px;width:3.5px;height:10.09px;background:#4472c4;"></div>
<div class="a" style="left:454.45px;top:890.81px;width:3.5px;height:70.89px;background:#000000;"></div>
<div class="a" style="left:459px;top:895.43px;width:3.5px;height:66.27px;background:#00b050;"></div>
<div class="a" style="left:463.55px;top:910.99px;width:3.5px;height:50.71px;background:#ff0000;"></div>
<div class="a" style="left:468.1px;top:941.39px;width:3.5px;height:20.31px;background:#4472c4;"></div>
<div class="a" style="left:492.15px;top:850.68px;width:3.5px;height:111.02px;background:#000000;"></div>
<div class="a" style="left:496.7px;top:874.15px;width:3.5px;height:87.55px;background:#00b050;"></div>
<div class="a" style="left:501.25px;top:871.23px;width:3.5px;height:90.47px;background:#ff0000;"></div>
<div class="a" style="left:505.8px;top:911.84px;width:3.5px;height:49.86px;background:#4472c4;"></div>
<div class="a" style="left:511px;top:850.68px;width:3.5px;height:111.02px;background:#000000;"></div>
<div class="a" style="left:515.55px;top:874.15px;width:3.5px;height:87.55px;background:#00b050;"></div>
<div class="a" style="left:520.1px;top:871.23px;width:3.5px;height:90.47px;background:#ff0000;"></div>
<div class="a" style="left:524.65px;top:942.37px;width:3.5px;height:19.33px;background:#4472c4;"></div>
<div class="a" style="left:529.85px;top:850.68px;width:3.5px;height:111.02px;background:#000000;"></div>
<div class="a" style="left:534.4px;top:862.96px;width:3.5px;height:98.74px;background:#00b050;"></div>
<div class="a" style="left:538.95px;top:850.68px;width:3.5px;height:111.02px;background:#ff0000;"></div>
<div class="a" style="left:543.5px;top:922.54px;width:3.5px;height:39.16px;background:#4472c4;"></div>
<div class="a" style="left:567.55px;top:850.68px;width:3.5px;height:111.02px;background:#000000;"></div>
<div class="a" style="left:572.1px;top:862.96px;width:3.5px;height:98.74px;background:#00b050;"></div>
<div class="a" style="left:576.65px;top:850.68px;width:3.5px;height:111.02px;background:#ff0000;"></div>
<div class="a" style="left:581.2px;top:874.15px;width:3.5px;height:87.55px;background:#4472c4;"></div>
<div class="a" style="left:586.4px;top:871.23px;width:3.5px;height:90.47px;background:#000000;"></div>
<div class="a" style="left:590.95px;top:874.15px;width:3.5px;height:87.55px;background:#00b050;"></div>
<div class="a" style="left:595.5px;top:881.44px;width:3.5px;height:80.26px;background:#ff0000;"></div>
<div class="a" style="left:600.05px;top:952.58px;width:3.5px;height:9.12px;background:#4472c4;"></div>
<div class="t" style="right:636.57px;top:966.3px;font-size:9.6px;line-height:9.6px;color:#595959;transform-origin:100% 50%;transform:rotate(-45deg);">WNT</div>
<div class="t" style="right:617.72px;top:966.3px;font-size:9.6px;line-height:9.6px;color:#595959;transform-origin:100% 50%;transform:rotate(-45deg);">WNTa</div>
<div class="t" style="right:598.88px;top:966.3px;font-size:9.6px;line-height:9.6px;color:#595959;transform-origin:100% 50%;transform:rotate(-45deg);">WNTb</div>
<div class="t" style="right:561.17px;top:966.3px;font-size:9.6px;line-height:9.6px;color:#595959;transform-origin:100% 50%;transform:rotate(-45deg);">SHH</div>
<div class="t" style="right:542.32px;top:966.3px;font-size:9.6px;line-height:9.6px;color:#595959;transform-origin:100% 50%;transform:rotate(-45deg);">SHHa</div>
<div class="t" style="right:523.47px;top:966.3px;font-size:9.6px;line-height:9.6px;color:#595959;transform-origin:100% 50%;transform:rotate(-45deg);">SHHb</div>
<div class="t" style="right:504.62px;top:966.3px;font-size:9.6px;line-height:9.6px;color:#595959;transform-origin:100% 50%;transform:rotate(-45deg);">SHHg</div>
<div class="t" style="right:485.77px;top:966.3px;font-size:9.6px;line-height:9.6px;color:#595959;transform-origin:100% 50%;transform:rotate(-45deg);">SHHd</div>
<div class="t" style="right:448.07px;top:966.3px;font-size:9.6px;line-height:9.6px;color:#595959;transform-origin:100% 50%;transform:rotate(-45deg);">Group3</div>
<div class="t" style="right:429.23px;top:966.3px;font-size:9.6px;line-height:9.6px;color:#595959;transform-origin:100% 50%;transform:rotate(-45deg);">Group3a</div>
<div class="t" style="right:410.38px;top:966.3px;font-size:9.6px;line-height:9.6px;color:#595959;transform-origin:100% 50%;transform:rotate(-45deg);">Group3b</div>
<div class="t" style="right:391.52px;top:966.3px;font-size:9.6px;line-height:9.6px;color:#595959;transform-origin:100% 50%;transform:rotate(-45deg);">Group3g</div>
<div class="t" style="right:353.82px;top:966.3px;font-size:9.6px;line-height:9.6px;color:#595959;transform-origin:100% 50%;transform:rotate(-45deg);">Group4</div>
<div class="t" style="right:334.97px;top:966.3px;font-size:9.6px;line-height:9.6px;color:#595959;transform-origin:100% 50%;transform:rotate(-45deg);">Group4a</div>
<div class="t" style="right:316.12px;top:966.3px;font-size:9.6px;line-height:9.6px;color:#595959;transform-origin:100% 50%;transform:rotate(-45deg);">Group4b</div>
<div class="t" style="right:297.27px;top:966.3px;font-size:9.6px;line-height:9.6px;color:#595959;transform-origin:100% 50%;transform:rotate(-45deg);">Group4g</div>
<div class="t" style="right:259.57px;top:966.3px;font-size:9.6px;line-height:9.6px;color:#595959;transform-origin:100% 50%;transform:rotate(-45deg);">SHH</div>
<div class="t" style="right:240.72px;top:966.3px;font-size:9.6px;line-height:9.6px;color:#595959;transform-origin:100% 50%;transform:rotate(-45deg);">Group3</div>
<div class="t" style="right:221.87px;top:966.3px;font-size:9.6px;line-height:9.6px;color:#595959;transform-origin:100% 50%;transform:rotate(-45deg);">Group4</div>
<div class="t" style="right:184.17px;top:966.3px;font-size:9.6px;line-height:9.6px;color:#595959;transform-origin:100% 50%;transform:rotate(-45deg);">GBM C</div>
<div class="t" style="right:165.32px;top:966.3px;font-size:9.6px;line-height:9.6px;color:#595959;transform-origin:100% 50%;transform:rotate(-45deg);">GBM M</div>
<div class="t" style="right:146.47px;top:966.3px;font-size:9.6px;line-height:9.6px;color:#595959;transform-origin:100% 50%;transform:rotate(-45deg);">GBM PN</div>
<div class="t" style="right:108.78px;top:966.3px;font-size:9.6px;line-height:9.6px;color:#595959;transform-origin:100% 50%;transform:rotate(-45deg);">IDHwt</div>
<div class="t" style="right:89.92px;top:966.3px;font-size:9.6px;line-height:9.6px;color:#595959;transform-origin:100% 50%;transform:rotate(-45deg);">IDHmut</div>
<div class="a" style="left:619px;top:888.5px;width:5.8px;height:5.6px;background:#000000;"></div>
<div class="t" style="top:885.7px;font-size:10.8px;line-height:10.8px;color:#595959;font-weight:normal;font-style:normal;left:627.3px;">SIGLEC-10</div>
<div class="a" style="left:619px;top:906.5px;width:5.8px;height:5.6px;background:#00b050;"></div>
<div class="t" style="top:903.7px;font-size:10.8px;line-height:10.8px;color:#595959;font-weight:normal;font-style:normal;left:627.3px;">TREM2</div>
<div class="a" style="left:619px;top:924.5px;width:5.8px;height:5.6px;background:#ff0000;"></div>
<div class="t" style="top:921.7px;font-size:10.8px;line-height:10.8px;color:#595959;font-weight:normal;font-style:normal;left:627.3px;">CD163</div>
<div class="a" style="left:619px;top:942.5px;width:5.8px;height:5.6px;background:#4472c4;"></div>
<div class="t" style="top:939.7px;font-size:10.8px;line-height:10.8px;color:#595959;font-weight:normal;font-style:normal;left:627.3px;">ITGA4</div>
<div class="a" style="left:39.1px;top:1008.15px;width:342px;height:1.1px;background:#1a1a1a;"></div>
<svg class="a" style="left:36.1px;top:1004.7px;" width="8" height="8" viewBox="0 0 8 8"><polygon points="0,4 7.4,0.4 7.4,7.6" fill="#111"/></svg>
<svg class="a" style="left:376.1px;top:1004.7px;" width="8" height="8" viewBox="0 0 8 8"><polygon points="8,4 0.6,0.4 0.6,7.6" fill="#111"/></svg>
<div class="a" style="left:410px;top:1008.15px;width:62.3px;height:1.1px;background:#1a1a1a;"></div>
<svg class="a" style="left:407px;top:1004.7px;" width="8" height="8" viewBox="0 0 8 8"><polygon points="0,4 7.4,0.4 7.4,7.6" fill="#111"/></svg>
<svg class="a" style="left:467.3px;top:1004.7px;" width="8" height="8" viewBox="0 0 8 8"><polygon points="8,4 0.6,0.4 0.6,7.6" fill="#111"/></svg>
<div class="a" style="left:500.1px;top:1008.15px;width:100.2px;height:1.1px;background:#1a1a1a;"></div>
<svg class="a" style="left:497.1px;top:1004.7px;" width="8" height="8" viewBox="0 0 8 8"><polygon points="0,4 7.4,0.4 7.4,7.6" fill="#111"/></svg>
<svg class="a" style="left:595.3px;top:1004.7px;" width="8" height="8" viewBox="0 0 8 8"><polygon points="8,4 0.6,0.4 0.6,7.6" fill="#111"/></svg>
<div class="t" style="top:1016.3px;font-size:12px;line-height:12px;color:#111;font-weight:normal;font-style:normal;left:218.7px;width:0;display:flex;justify-content:center;">Cavalli MB</div>
<div class="t" style="top:1016.3px;font-size:12px;line-height:12px;color:#111;font-weight:normal;font-style:normal;left:440.9px;width:0;display:flex;justify-content:center;">Northcott_2012 MB</div>
<div class="t" style="top:1016.3px;font-size:12px;line-height:12px;color:#111;font-weight:normal;font-style:normal;left:549.5px;width:0;display:flex;justify-content:center;">TCGA_GBM</div>
</body></html>
